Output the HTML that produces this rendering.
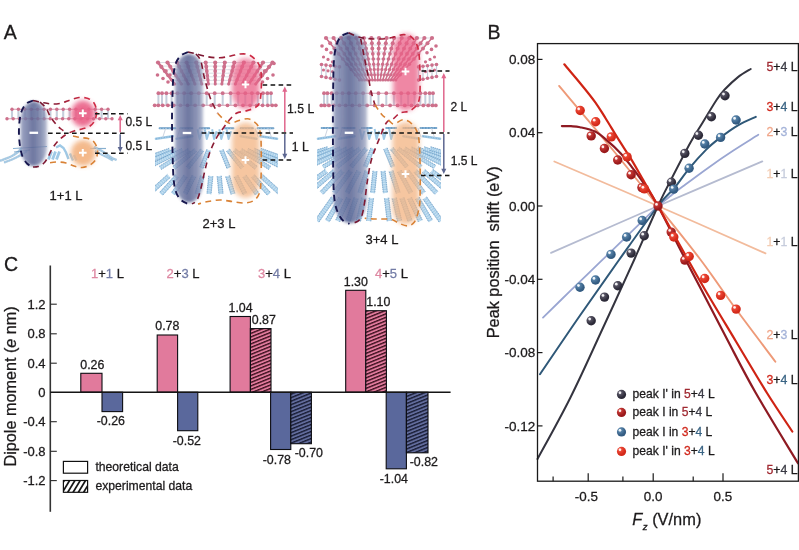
<!DOCTYPE html>
<html><head><meta charset="utf-8"><title>Figure</title>
<style>
html,body{margin:0;padding:0;background:#fff;}
body{width:799px;height:550px;overflow:hidden;}
svg{display:block;font-family:"Liberation Sans",Arial,sans-serif;}
text{stroke-width:0.28px;}
</style></head><body>
<svg width="799" height="550" viewBox="0 0 799 550">
<defs>
<filter id="b1" x="-30%" y="-10%" width="160%" height="120%"><feGaussianBlur stdDeviation="1.8"/></filter>
<filter id="b2" x="-30%" y="-30%" width="160%" height="160%"><feGaussianBlur stdDeviation="2.4"/></filter>
<filter id="b0" x="-5%" y="-5%" width="110%" height="110%"><feGaussianBlur stdDeviation="0.35"/></filter>
<linearGradient id="gE" x1="0" y1="0" x2="1" y2="0">
<stop offset="0" stop-color="#8d96ba" stop-opacity="0.9"/><stop offset="0.2" stop-color="#727ca6" stop-opacity="0.9"/>
<stop offset="0.48" stop-color="#586392" stop-opacity="0.94"/><stop offset="0.8" stop-color="#7680a8" stop-opacity="0.88"/>
<stop offset="1" stop-color="#8f98b8" stop-opacity="0.7"/></linearGradient>
<linearGradient id="r1" gradientUnits="userSpaceOnUse" x1="33" y1="0" x2="85" y2="0"><stop offset="0" stop-color="#6a1630"/><stop offset="0.45" stop-color="#8e1c34"/><stop offset="1" stop-color="#cf2a44"/></linearGradient>
<linearGradient id="r2" gradientUnits="userSpaceOnUse" x1="190" y1="0" x2="250" y2="0"><stop offset="0" stop-color="#6a1630"/><stop offset="0.45" stop-color="#8e1c34"/><stop offset="1" stop-color="#cf2a44"/></linearGradient>
<linearGradient id="r3" gradientUnits="userSpaceOnUse" x1="350" y1="0" x2="410" y2="0"><stop offset="0" stop-color="#6a1630"/><stop offset="0.45" stop-color="#8e1c34"/><stop offset="1" stop-color="#cf2a44"/></linearGradient>
<clipPath id="c2"><rect x="155" y="40" width="123" height="170"/></clipPath>
<clipPath id="c3"><rect x="317" y="30" width="124" height="200"/></clipPath>
<radialGradient id="sD" cx="0.36" cy="0.32" r="0.75" fx="0.32" fy="0.28"><stop offset="0" stop-color="#d8d6e0"/><stop offset="0.22" stop-color="#5b5868"/><stop offset="0.75" stop-color="#2c2a38"/><stop offset="1" stop-color="#2c2a38"/></radialGradient>
<radialGradient id="sR" cx="0.36" cy="0.32" r="0.75" fx="0.32" fy="0.28"><stop offset="0" stop-color="#f6c8c0"/><stop offset="0.22" stop-color="#c83a36"/><stop offset="0.75" stop-color="#9a1a1c"/><stop offset="1" stop-color="#9a1a1c"/></radialGradient>
<radialGradient id="sB" cx="0.36" cy="0.32" r="0.75" fx="0.32" fy="0.28"><stop offset="0" stop-color="#d6e6f2"/><stop offset="0.22" stop-color="#5a86ac"/><stop offset="0.75" stop-color="#345c82"/><stop offset="1" stop-color="#345c82"/></radialGradient>
<radialGradient id="sO" cx="0.36" cy="0.32" r="0.75" fx="0.32" fy="0.28"><stop offset="0" stop-color="#ffd8cc"/><stop offset="0.22" stop-color="#ee4a38"/><stop offset="0.75" stop-color="#d42a1a"/><stop offset="1" stop-color="#d42a1a"/></radialGradient>
<pattern id="hp" width="6" height="3.5" patternUnits="userSpaceOnUse" patternTransform="skewY(-22)">
<rect width="6" height="3.5" fill="#e17a9c"/><rect width="6" height="1.5" fill="#3c101e"/></pattern>
<pattern id="hb" width="6" height="3.5" patternUnits="userSpaceOnUse" patternTransform="skewY(-22)">
<rect width="6" height="3.5" fill="#626c9c"/><rect width="6" height="1.5" fill="#181c34"/></pattern>
<pattern id="hw" width="6" height="4.8" patternUnits="userSpaceOnUse" patternTransform="translate(0,1.5) skewY(-48)">
<rect width="6" height="4.8" fill="#fff"/><rect width="6" height="1.7" fill="#1a1a1a"/></pattern>
<clipPath id="clg"><rect x="63.4" y="480.5" width="24.2" height="11.8"/></clipPath>
</defs>
<rect width="799" height="550" fill="#fff"/>
<g id="panelA">
<text x="3.8" y="38.6" font-size="19.5" text-anchor="start" fill="#1c1a1b"  stroke="#1c1a1b">A</text>
<g filter="url(#b0)">
<line x1="12.0" y1="109.2" x2="12.0" y2="118.8" stroke="#c6cedb" stroke-width="2.1"/>
<line x1="18.4" y1="109.2" x2="18.4" y2="118.8" stroke="#c6cedb" stroke-width="2.1"/>
<line x1="24.8" y1="109.2" x2="24.8" y2="118.8" stroke="#c6cedb" stroke-width="2.1"/>
<line x1="31.2" y1="109.2" x2="31.2" y2="118.8" stroke="#c6cedb" stroke-width="2.1"/>
<line x1="37.6" y1="109.2" x2="37.6" y2="118.8" stroke="#c6cedb" stroke-width="2.1"/>
<line x1="44.0" y1="109.2" x2="44.0" y2="118.8" stroke="#c6cedb" stroke-width="2.1"/>
<line x1="50.4" y1="109.2" x2="50.4" y2="118.8" stroke="#c6cedb" stroke-width="2.1"/>
<line x1="56.8" y1="109.2" x2="56.8" y2="118.8" stroke="#c6cedb" stroke-width="2.1"/>
<line x1="63.2" y1="109.2" x2="63.2" y2="118.8" stroke="#c6cedb" stroke-width="2.1"/>
<line x1="69.6" y1="109.2" x2="69.6" y2="118.8" stroke="#c6cedb" stroke-width="2.1"/>
<line x1="76.0" y1="109.2" x2="76.0" y2="118.8" stroke="#c6cedb" stroke-width="2.1"/>
<line x1="82.4" y1="109.2" x2="82.4" y2="118.8" stroke="#c6cedb" stroke-width="2.1"/>
<line x1="88.8" y1="109.2" x2="88.8" y2="118.8" stroke="#c6cedb" stroke-width="2.1"/>
<line x1="95.2" y1="109.2" x2="95.2" y2="118.8" stroke="#c6cedb" stroke-width="2.1"/>
<line x1="101.6" y1="109.2" x2="101.6" y2="118.8" stroke="#c6cedb" stroke-width="2.1"/>
<line x1="108.0" y1="109.2" x2="108.0" y2="118.8" stroke="#c6cedb" stroke-width="2.1"/>
<line x1="12.0" y1="109.2" x2="108.0" y2="109.2" stroke="#d79cb0" stroke-width="1.1"/>
<line x1="7.0" y1="118.8" x2="112.0" y2="118.8" stroke="#d79cb0" stroke-width="1.1"/>
<circle cx="12.0" cy="109.2" r="1.7" fill="#cd6f8b"/>
<circle cx="18.4" cy="109.2" r="1.7" fill="#cd6f8b"/>
<circle cx="24.8" cy="109.2" r="1.7" fill="#cd6f8b"/>
<circle cx="31.2" cy="109.2" r="1.7" fill="#cd6f8b"/>
<circle cx="37.6" cy="109.2" r="1.7" fill="#cd6f8b"/>
<circle cx="44.0" cy="109.2" r="1.7" fill="#cd6f8b"/>
<circle cx="50.4" cy="109.2" r="1.7" fill="#cd6f8b"/>
<circle cx="56.8" cy="109.2" r="1.7" fill="#cd6f8b"/>
<circle cx="63.2" cy="109.2" r="1.7" fill="#cd6f8b"/>
<circle cx="69.6" cy="109.2" r="1.7" fill="#cd6f8b"/>
<circle cx="76.0" cy="109.2" r="1.7" fill="#cd6f8b"/>
<circle cx="82.4" cy="109.2" r="1.7" fill="#cd6f8b"/>
<circle cx="88.8" cy="109.2" r="1.7" fill="#cd6f8b"/>
<circle cx="95.2" cy="109.2" r="1.7" fill="#cd6f8b"/>
<circle cx="101.6" cy="109.2" r="1.7" fill="#cd6f8b"/>
<circle cx="108.0" cy="109.2" r="1.7" fill="#cd6f8b"/>
<circle cx="7.0" cy="118.8" r="1.7" fill="#cd6f8b"/>
<circle cx="13.2" cy="118.8" r="1.7" fill="#cd6f8b"/>
<circle cx="19.4" cy="118.8" r="1.7" fill="#cd6f8b"/>
<circle cx="25.5" cy="118.8" r="1.7" fill="#cd6f8b"/>
<circle cx="31.7" cy="118.8" r="1.7" fill="#cd6f8b"/>
<circle cx="37.9" cy="118.8" r="1.7" fill="#cd6f8b"/>
<circle cx="44.1" cy="118.8" r="1.7" fill="#cd6f8b"/>
<circle cx="50.2" cy="118.8" r="1.7" fill="#cd6f8b"/>
<circle cx="56.4" cy="118.8" r="1.7" fill="#cd6f8b"/>
<circle cx="62.6" cy="118.8" r="1.7" fill="#cd6f8b"/>
<circle cx="68.8" cy="118.8" r="1.7" fill="#cd6f8b"/>
<circle cx="74.9" cy="118.8" r="1.7" fill="#cd6f8b"/>
<circle cx="81.1" cy="118.8" r="1.7" fill="#cd6f8b"/>
<circle cx="87.3" cy="118.8" r="1.7" fill="#cd6f8b"/>
<circle cx="93.5" cy="118.8" r="1.7" fill="#cd6f8b"/>
<circle cx="99.6" cy="118.8" r="1.7" fill="#cd6f8b"/>
<circle cx="105.8" cy="118.8" r="1.7" fill="#cd6f8b"/>
<circle cx="112.0" cy="118.8" r="1.7" fill="#cd6f8b"/>
<path d="M0.0,160.8 C1.0,160.4 4.0,159.4 6.0,158.6 C8.0,157.8 10.0,157.1 12.0,156.0 C14.0,154.9 16.3,153.3 18.0,152.0 C19.7,150.7 21.3,148.7 22.0,148.0" fill="none" stroke="#6a9bc4" stroke-width="2.4" opacity="0.5"/>
<path d="M0.0,160.8 C1.0,160.4 4.0,159.4 6.0,158.6 C8.0,157.8 10.0,157.1 12.0,156.0 C14.0,154.9 16.3,153.3 18.0,152.0 C19.7,150.7 21.3,148.7 22.0,148.0" fill="none" stroke="#9fc9e6" stroke-width="1.5999999999999999" stroke-dasharray="1.6 0.9"/>
<path d="M4.0,162.5 C5.3,162.0 9.3,160.7 12.0,159.5 C14.7,158.3 17.5,156.9 20.0,155.5 C22.5,154.1 25.8,151.8 27.0,151.0" fill="none" stroke="#6a9bc4" stroke-width="2.2" opacity="0.5"/>
<path d="M4.0,162.5 C5.3,162.0 9.3,160.7 12.0,159.5 C14.7,158.3 17.5,156.9 20.0,155.5 C22.5,154.1 25.8,151.8 27.0,151.0" fill="none" stroke="#9fc9e6" stroke-width="1.4000000000000001" stroke-dasharray="1.6 0.9"/>
<path d="M13,148.5 L47,146.5 M14,152 L30,150" stroke="#6a9bc4" stroke-width="1.2" opacity="0.8"/>
<line x1="51.5" y1="151.5" x2="48.5" y2="159.5" stroke="#9fc9e6" stroke-width="2.8"/>
<line x1="55.5" y1="151.5" x2="52.5" y2="159.5" stroke="#9fc9e6" stroke-width="2.8"/>
<line x1="59.5" y1="151.5" x2="56.5" y2="159.5" stroke="#9fc9e6" stroke-width="2.8"/>
<path d="M56,147.5 L60,145.5 L63.5,148 L66,152.5 L68.5,159 M70,153.5 l3,7 M74,155 l2.5,5.5" stroke="#9fc9e6" stroke-width="2.4" fill="none"/>
<path d="M90,148.5 H106" stroke="#6a9bc4" stroke-width="1.2" opacity="0.8"/>
<path d="M94.0,147.0 C95.2,147.6 98.8,149.2 101.0,150.5 C103.2,151.8 105.2,153.2 107.0,154.5 C108.8,155.8 110.4,157.1 112.0,158.0 C113.6,158.9 115.8,159.7 116.5,160.0" fill="none" stroke="#6a9bc4" stroke-width="2.4" opacity="0.5"/>
<path d="M94.0,147.0 C95.2,147.6 98.8,149.2 101.0,150.5 C103.2,151.8 105.2,153.2 107.0,154.5 C108.8,155.8 110.4,157.1 112.0,158.0 C113.6,158.9 115.8,159.7 116.5,160.0" fill="none" stroke="#9fc9e6" stroke-width="1.5999999999999999" stroke-dasharray="1.6 0.9"/>
<path d="M95.0,151.0 C96.2,151.6 99.8,153.7 102.0,154.8 C104.2,155.9 106.2,156.9 108.0,157.8 C109.8,158.8 112.2,160.1 113.0,160.5" fill="none" stroke="#6a9bc4" stroke-width="2.2" opacity="0.5"/>
<path d="M95.0,151.0 C96.2,151.6 99.8,153.7 102.0,154.8 C104.2,155.9 106.2,156.9 108.0,157.8 C109.8,158.8 112.2,160.1 113.0,160.5" fill="none" stroke="#9fc9e6" stroke-width="1.4000000000000001" stroke-dasharray="1.6 0.9"/>
<g>
<line x1="158.0" y1="62.5" x2="272.5" y2="62.5" stroke="#c3c8d4" stroke-width="0.6"/>
<line x1="160.8" y1="66.1" x2="269.7" y2="66.1" stroke="#c3c8d4" stroke-width="0.6"/>
<line x1="163.6" y1="69.7" x2="266.9" y2="69.7" stroke="#c3c8d4" stroke-width="0.6"/>
<line x1="166.3" y1="73.2" x2="264.1" y2="73.2" stroke="#c3c8d4" stroke-width="0.6"/>
<line x1="169.1" y1="76.8" x2="261.3" y2="76.8" stroke="#c3c8d4" stroke-width="0.6"/>
<line x1="171.9" y1="80.4" x2="258.5" y2="80.4" stroke="#c3c8d4" stroke-width="0.6"/>
<line x1="174.7" y1="84.0" x2="255.7" y2="84.0" stroke="#c3c8d4" stroke-width="0.6"/>
<line x1="158.0" y1="62.5" x2="174.7" y2="84.0" stroke="#cd6f8b" stroke-width="2.5" stroke-linecap="round"/>
<circle cx="158.0" cy="62.5" r="2.10" fill="#cd6f8b"/>
<circle cx="161.3" cy="66.8" r="1.98" fill="#cd6f8b"/>
<circle cx="164.7" cy="71.1" r="1.86" fill="#cd6f8b"/>
<circle cx="168.0" cy="75.4" r="1.74" fill="#cd6f8b"/>
<circle cx="171.3" cy="79.7" r="1.62" fill="#cd6f8b"/>
<circle cx="174.7" cy="84.0" r="1.50" fill="#cd6f8b"/>
<line x1="167.5" y1="62.5" x2="181.4" y2="84.0" stroke="#cd6f8b" stroke-width="2.5" stroke-linecap="round"/>
<circle cx="167.5" cy="62.5" r="2.10" fill="#cd6f8b"/>
<circle cx="170.3" cy="66.8" r="1.98" fill="#cd6f8b"/>
<circle cx="173.1" cy="71.1" r="1.86" fill="#cd6f8b"/>
<circle cx="175.9" cy="75.4" r="1.74" fill="#cd6f8b"/>
<circle cx="178.6" cy="79.7" r="1.62" fill="#cd6f8b"/>
<circle cx="181.4" cy="84.0" r="1.50" fill="#cd6f8b"/>
<line x1="177.1" y1="62.5" x2="188.2" y2="84.0" stroke="#cd6f8b" stroke-width="2.5" stroke-linecap="round"/>
<circle cx="177.1" cy="62.5" r="2.10" fill="#cd6f8b"/>
<circle cx="179.3" cy="66.8" r="1.98" fill="#cd6f8b"/>
<circle cx="181.5" cy="71.1" r="1.86" fill="#cd6f8b"/>
<circle cx="183.7" cy="75.4" r="1.74" fill="#cd6f8b"/>
<circle cx="186.0" cy="79.7" r="1.62" fill="#cd6f8b"/>
<circle cx="188.2" cy="84.0" r="1.50" fill="#cd6f8b"/>
<line x1="186.6" y1="62.5" x2="194.9" y2="84.0" stroke="#cd6f8b" stroke-width="2.5" stroke-linecap="round"/>
<circle cx="186.6" cy="62.5" r="2.10" fill="#cd6f8b"/>
<circle cx="188.3" cy="66.8" r="1.98" fill="#cd6f8b"/>
<circle cx="189.9" cy="71.1" r="1.86" fill="#cd6f8b"/>
<circle cx="191.6" cy="75.4" r="1.74" fill="#cd6f8b"/>
<circle cx="193.3" cy="79.7" r="1.62" fill="#cd6f8b"/>
<circle cx="194.9" cy="84.0" r="1.50" fill="#cd6f8b"/>
<line x1="196.2" y1="62.5" x2="201.7" y2="84.0" stroke="#cd6f8b" stroke-width="2.5" stroke-linecap="round"/>
<circle cx="196.2" cy="62.5" r="2.10" fill="#cd6f8b"/>
<circle cx="197.3" cy="66.8" r="1.98" fill="#cd6f8b"/>
<circle cx="198.4" cy="71.1" r="1.86" fill="#cd6f8b"/>
<circle cx="199.5" cy="75.4" r="1.74" fill="#cd6f8b"/>
<circle cx="200.6" cy="79.7" r="1.62" fill="#cd6f8b"/>
<circle cx="201.7" cy="84.0" r="1.50" fill="#cd6f8b"/>
<line x1="205.7" y1="62.5" x2="208.4" y2="84.0" stroke="#cd6f8b" stroke-width="2.5" stroke-linecap="round"/>
<circle cx="205.7" cy="62.5" r="2.10" fill="#cd6f8b"/>
<circle cx="206.3" cy="66.8" r="1.98" fill="#cd6f8b"/>
<circle cx="206.8" cy="71.1" r="1.86" fill="#cd6f8b"/>
<circle cx="207.3" cy="75.4" r="1.74" fill="#cd6f8b"/>
<circle cx="207.9" cy="79.7" r="1.62" fill="#cd6f8b"/>
<circle cx="208.4" cy="84.0" r="1.50" fill="#cd6f8b"/>
<line x1="215.2" y1="62.5" x2="215.2" y2="84.0" stroke="#cd6f8b" stroke-width="2.5" stroke-linecap="round"/>
<circle cx="215.2" cy="62.5" r="2.10" fill="#cd6f8b"/>
<circle cx="215.2" cy="66.8" r="1.98" fill="#cd6f8b"/>
<circle cx="215.2" cy="71.1" r="1.86" fill="#cd6f8b"/>
<circle cx="215.2" cy="75.4" r="1.74" fill="#cd6f8b"/>
<circle cx="215.2" cy="79.7" r="1.62" fill="#cd6f8b"/>
<circle cx="215.2" cy="84.0" r="1.50" fill="#cd6f8b"/>
<line x1="224.8" y1="62.5" x2="221.9" y2="84.0" stroke="#cd6f8b" stroke-width="2.5" stroke-linecap="round"/>
<circle cx="224.8" cy="62.5" r="2.10" fill="#cd6f8b"/>
<circle cx="224.2" cy="66.8" r="1.98" fill="#cd6f8b"/>
<circle cx="223.6" cy="71.1" r="1.86" fill="#cd6f8b"/>
<circle cx="223.1" cy="75.4" r="1.74" fill="#cd6f8b"/>
<circle cx="222.5" cy="79.7" r="1.62" fill="#cd6f8b"/>
<circle cx="221.9" cy="84.0" r="1.50" fill="#cd6f8b"/>
<line x1="234.3" y1="62.5" x2="228.7" y2="84.0" stroke="#cd6f8b" stroke-width="2.5" stroke-linecap="round"/>
<circle cx="234.3" cy="62.5" r="2.10" fill="#cd6f8b"/>
<circle cx="233.2" cy="66.8" r="1.98" fill="#cd6f8b"/>
<circle cx="232.1" cy="71.1" r="1.86" fill="#cd6f8b"/>
<circle cx="230.9" cy="75.4" r="1.74" fill="#cd6f8b"/>
<circle cx="229.8" cy="79.7" r="1.62" fill="#cd6f8b"/>
<circle cx="228.7" cy="84.0" r="1.50" fill="#cd6f8b"/>
<line x1="243.9" y1="62.5" x2="235.4" y2="84.0" stroke="#cd6f8b" stroke-width="2.5" stroke-linecap="round"/>
<circle cx="243.9" cy="62.5" r="2.10" fill="#cd6f8b"/>
<circle cx="242.2" cy="66.8" r="1.98" fill="#cd6f8b"/>
<circle cx="240.5" cy="71.1" r="1.86" fill="#cd6f8b"/>
<circle cx="238.8" cy="75.4" r="1.74" fill="#cd6f8b"/>
<circle cx="237.1" cy="79.7" r="1.62" fill="#cd6f8b"/>
<circle cx="235.4" cy="84.0" r="1.50" fill="#cd6f8b"/>
<line x1="253.4" y1="62.5" x2="242.2" y2="84.0" stroke="#cd6f8b" stroke-width="2.5" stroke-linecap="round"/>
<circle cx="253.4" cy="62.5" r="2.10" fill="#cd6f8b"/>
<circle cx="251.2" cy="66.8" r="1.98" fill="#cd6f8b"/>
<circle cx="248.9" cy="71.1" r="1.86" fill="#cd6f8b"/>
<circle cx="246.7" cy="75.4" r="1.74" fill="#cd6f8b"/>
<circle cx="244.4" cy="79.7" r="1.62" fill="#cd6f8b"/>
<circle cx="242.2" cy="84.0" r="1.50" fill="#cd6f8b"/>
<line x1="263.0" y1="62.5" x2="248.9" y2="84.0" stroke="#cd6f8b" stroke-width="2.5" stroke-linecap="round"/>
<circle cx="263.0" cy="62.5" r="2.10" fill="#cd6f8b"/>
<circle cx="260.2" cy="66.8" r="1.98" fill="#cd6f8b"/>
<circle cx="257.3" cy="71.1" r="1.86" fill="#cd6f8b"/>
<circle cx="254.5" cy="75.4" r="1.74" fill="#cd6f8b"/>
<circle cx="251.7" cy="79.7" r="1.62" fill="#cd6f8b"/>
<circle cx="248.9" cy="84.0" r="1.50" fill="#cd6f8b"/>
<line x1="272.5" y1="62.5" x2="255.7" y2="84.0" stroke="#cd6f8b" stroke-width="2.5" stroke-linecap="round"/>
<circle cx="272.5" cy="62.5" r="2.10" fill="#cd6f8b"/>
<circle cx="269.1" cy="66.8" r="1.98" fill="#cd6f8b"/>
<circle cx="265.8" cy="71.1" r="1.86" fill="#cd6f8b"/>
<circle cx="262.4" cy="75.4" r="1.74" fill="#cd6f8b"/>
<circle cx="259.0" cy="79.7" r="1.62" fill="#cd6f8b"/>
<circle cx="255.7" cy="84.0" r="1.50" fill="#cd6f8b"/>
</g>
<circle cx="157.5" cy="75" r="1.8" fill="#cd6f8b"/>
<circle cx="163" cy="78.5" r="1.8" fill="#cd6f8b"/>
<circle cx="168" cy="82" r="1.8" fill="#cd6f8b"/>
<circle cx="161.5" cy="67" r="1.8" fill="#cd6f8b"/>
<circle cx="166" cy="71" r="1.8" fill="#cd6f8b"/>
<circle cx="170" cy="75" r="1.8" fill="#cd6f8b"/>
<circle cx="273" cy="75" r="1.8" fill="#cd6f8b"/>
<circle cx="267.5" cy="78.5" r="1.8" fill="#cd6f8b"/>
<circle cx="262.5" cy="82" r="1.8" fill="#cd6f8b"/>
<circle cx="269" cy="67" r="1.8" fill="#cd6f8b"/>
<circle cx="264.5" cy="71" r="1.8" fill="#cd6f8b"/>
<circle cx="260.5" cy="75" r="1.8" fill="#cd6f8b"/>
<circle cx="274" cy="63.5" r="1.8" fill="#cd6f8b"/>
<line x1="158.4" y1="93.2" x2="158.4" y2="105.3" stroke="#c6cedb" stroke-width="2.0"/>
<line x1="162.0" y1="93.2" x2="162.0" y2="105.3" stroke="#c6cedb" stroke-width="2.0"/>
<line x1="166.4" y1="93.2" x2="166.4" y2="105.3" stroke="#c6cedb" stroke-width="2.0"/>
<line x1="171.6" y1="93.2" x2="171.6" y2="105.3" stroke="#c6cedb" stroke-width="2.0"/>
<line x1="177.5" y1="93.2" x2="177.5" y2="105.3" stroke="#c6cedb" stroke-width="2.0"/>
<line x1="184.1" y1="93.2" x2="184.1" y2="105.3" stroke="#c6cedb" stroke-width="2.0"/>
<line x1="191.2" y1="93.2" x2="191.2" y2="105.3" stroke="#c6cedb" stroke-width="2.0"/>
<line x1="198.8" y1="93.2" x2="198.8" y2="105.3" stroke="#c6cedb" stroke-width="2.0"/>
<line x1="206.7" y1="93.2" x2="206.7" y2="105.3" stroke="#c6cedb" stroke-width="2.0"/>
<line x1="214.7" y1="93.2" x2="214.7" y2="105.3" stroke="#c6cedb" stroke-width="2.0"/>
<line x1="222.7" y1="93.2" x2="222.7" y2="105.3" stroke="#c6cedb" stroke-width="2.0"/>
<line x1="230.6" y1="93.2" x2="230.6" y2="105.3" stroke="#c6cedb" stroke-width="2.0"/>
<line x1="238.2" y1="93.2" x2="238.2" y2="105.3" stroke="#c6cedb" stroke-width="2.0"/>
<line x1="245.3" y1="93.2" x2="245.3" y2="105.3" stroke="#c6cedb" stroke-width="2.0"/>
<line x1="251.9" y1="93.2" x2="251.9" y2="105.3" stroke="#c6cedb" stroke-width="2.0"/>
<line x1="257.8" y1="93.2" x2="257.8" y2="105.3" stroke="#c6cedb" stroke-width="2.0"/>
<line x1="263.0" y1="93.2" x2="263.0" y2="105.3" stroke="#c6cedb" stroke-width="2.0"/>
<line x1="267.4" y1="93.2" x2="267.4" y2="105.3" stroke="#c6cedb" stroke-width="2.0"/>
<line x1="271.0" y1="93.2" x2="271.0" y2="105.3" stroke="#c6cedb" stroke-width="2.0"/>
<line x1="158.4" y1="93.2" x2="271.0" y2="93.2" stroke="#d79cb0" stroke-width="1.1"/>
<line x1="154.7" y1="105.3" x2="275.8" y2="105.3" stroke="#d79cb0" stroke-width="1.1"/>
<circle cx="158.4" cy="93.2" r="1.9" fill="#cd6f8b"/>
<circle cx="162.0" cy="93.2" r="1.9" fill="#cd6f8b"/>
<circle cx="166.4" cy="93.2" r="1.9" fill="#cd6f8b"/>
<circle cx="171.6" cy="93.2" r="1.9" fill="#cd6f8b"/>
<circle cx="177.5" cy="93.2" r="1.9" fill="#cd6f8b"/>
<circle cx="184.1" cy="93.2" r="1.9" fill="#cd6f8b"/>
<circle cx="191.2" cy="93.2" r="1.9" fill="#cd6f8b"/>
<circle cx="198.8" cy="93.2" r="1.9" fill="#cd6f8b"/>
<circle cx="206.7" cy="93.2" r="1.9" fill="#cd6f8b"/>
<circle cx="214.7" cy="93.2" r="1.9" fill="#cd6f8b"/>
<circle cx="222.7" cy="93.2" r="1.9" fill="#cd6f8b"/>
<circle cx="230.6" cy="93.2" r="1.9" fill="#cd6f8b"/>
<circle cx="238.2" cy="93.2" r="1.9" fill="#cd6f8b"/>
<circle cx="245.3" cy="93.2" r="1.9" fill="#cd6f8b"/>
<circle cx="251.9" cy="93.2" r="1.9" fill="#cd6f8b"/>
<circle cx="257.8" cy="93.2" r="1.9" fill="#cd6f8b"/>
<circle cx="263.0" cy="93.2" r="1.9" fill="#cd6f8b"/>
<circle cx="267.4" cy="93.2" r="1.9" fill="#cd6f8b"/>
<circle cx="271.0" cy="93.2" r="1.9" fill="#cd6f8b"/>
<circle cx="154.7" cy="105.3" r="1.9" fill="#cd6f8b"/>
<circle cx="158.3" cy="105.3" r="1.9" fill="#cd6f8b"/>
<circle cx="162.7" cy="105.3" r="1.9" fill="#cd6f8b"/>
<circle cx="167.9" cy="105.3" r="1.9" fill="#cd6f8b"/>
<circle cx="173.8" cy="105.3" r="1.9" fill="#cd6f8b"/>
<circle cx="180.4" cy="105.3" r="1.9" fill="#cd6f8b"/>
<circle cx="187.5" cy="105.3" r="1.9" fill="#cd6f8b"/>
<circle cx="195.1" cy="105.3" r="1.9" fill="#cd6f8b"/>
<circle cx="203.0" cy="105.3" r="1.9" fill="#cd6f8b"/>
<circle cx="211.2" cy="105.3" r="1.9" fill="#cd6f8b"/>
<circle cx="219.3" cy="105.3" r="1.9" fill="#cd6f8b"/>
<circle cx="227.5" cy="105.3" r="1.9" fill="#cd6f8b"/>
<circle cx="235.4" cy="105.3" r="1.9" fill="#cd6f8b"/>
<circle cx="243.0" cy="105.3" r="1.9" fill="#cd6f8b"/>
<circle cx="250.1" cy="105.3" r="1.9" fill="#cd6f8b"/>
<circle cx="256.7" cy="105.3" r="1.9" fill="#cd6f8b"/>
<circle cx="262.6" cy="105.3" r="1.9" fill="#cd6f8b"/>
<circle cx="267.8" cy="105.3" r="1.9" fill="#cd6f8b"/>
<circle cx="272.2" cy="105.3" r="1.9" fill="#cd6f8b"/>
<circle cx="275.8" cy="105.3" r="1.9" fill="#cd6f8b"/>
<line x1="159.6" y1="128.3" x2="175.4" y2="128.3" stroke="#6a9bc4" stroke-width="2" stroke-linecap="round"/>
<line x1="159.6" y1="128.3" x2="175.4" y2="128.3" stroke="#9fc9e6" stroke-width="1" stroke-dasharray="1.5 1.5"/>
<line x1="180.2" y1="128.3" x2="192.3" y2="128.3" stroke="#6a9bc4" stroke-width="2" stroke-linecap="round"/>
<line x1="180.2" y1="128.3" x2="192.3" y2="128.3" stroke="#9fc9e6" stroke-width="1" stroke-dasharray="1.5 1.5"/>
<line x1="199.6" y1="128.3" x2="209.2" y2="128.3" stroke="#6a9bc4" stroke-width="2" stroke-linecap="round"/>
<line x1="199.6" y1="128.3" x2="209.2" y2="128.3" stroke="#9fc9e6" stroke-width="1" stroke-dasharray="1.5 1.5"/>
<line x1="223.8" y1="128.3" x2="233.4" y2="128.3" stroke="#6a9bc4" stroke-width="2" stroke-linecap="round"/>
<line x1="223.8" y1="128.3" x2="233.4" y2="128.3" stroke="#9fc9e6" stroke-width="1" stroke-dasharray="1.5 1.5"/>
<line x1="240.7" y1="128.3" x2="252.8" y2="128.3" stroke="#6a9bc4" stroke-width="2" stroke-linecap="round"/>
<line x1="240.7" y1="128.3" x2="252.8" y2="128.3" stroke="#9fc9e6" stroke-width="1" stroke-dasharray="1.5 1.5"/>
<line x1="257.6" y1="128.3" x2="273.4" y2="128.3" stroke="#6a9bc4" stroke-width="2" stroke-linecap="round"/>
<line x1="257.6" y1="128.3" x2="273.4" y2="128.3" stroke="#9fc9e6" stroke-width="1" stroke-dasharray="1.5 1.5"/>
<line x1="156.0" y1="138.8" x2="172.9" y2="136.2" stroke="#9fc9e6" stroke-width="2.6" stroke-linecap="round"/>
<line x1="156.0" y1="138.8" x2="172.9" y2="136.2" stroke="#6a9bc4" stroke-width="0.8" stroke-dasharray="1.2 1.4" opacity="0.7"/>
<line x1="176.6" y1="138.8" x2="192.3" y2="136.2" stroke="#9fc9e6" stroke-width="2.6" stroke-linecap="round"/>
<line x1="176.6" y1="138.8" x2="192.3" y2="136.2" stroke="#6a9bc4" stroke-width="0.8" stroke-dasharray="1.2 1.4" opacity="0.7"/>
<line x1="240.7" y1="136.2" x2="256.4" y2="138.8" stroke="#9fc9e6" stroke-width="2.6" stroke-linecap="round"/>
<line x1="240.7" y1="136.2" x2="256.4" y2="138.8" stroke="#6a9bc4" stroke-width="0.8" stroke-dasharray="1.2 1.4" opacity="0.7"/>
<line x1="260.1" y1="136.2" x2="277.0" y2="138.8" stroke="#9fc9e6" stroke-width="2.6" stroke-linecap="round"/>
<line x1="260.1" y1="136.2" x2="277.0" y2="138.8" stroke="#6a9bc4" stroke-width="0.8" stroke-dasharray="1.2 1.4" opacity="0.7"/>
<path d="M197.6,129.3 L199.6,139.0 L202.1,131.3" stroke="#9fc9e6" stroke-width="2" fill="none" stroke-linejoin="round"/>
<path d="M204.8,129.3 L206.8,139.0 L209.3,131.3" stroke="#9fc9e6" stroke-width="2" fill="none" stroke-linejoin="round"/>
<path d="M212.1,129.3 L214.1,139.0 L216.6,131.3" stroke="#9fc9e6" stroke-width="2" fill="none" stroke-linejoin="round"/>
<path d="M219.3,129.3 L221.3,139.0 L223.8,131.3" stroke="#9fc9e6" stroke-width="2" fill="none" stroke-linejoin="round"/>
<path d="M226.6,129.3 L228.6,139.0 L231.1,131.3" stroke="#9fc9e6" stroke-width="2" fill="none" stroke-linejoin="round"/>
<line x1="165.7" y1="128.3" x2="162.7" y2="137.5" stroke="#c6cedb" stroke-width="0.9"/>
<line x1="180.2" y1="128.3" x2="177.2" y2="137.5" stroke="#c6cedb" stroke-width="0.9"/>
<line x1="255.2" y1="128.3" x2="258.2" y2="137.5" stroke="#c6cedb" stroke-width="0.9"/>
<line x1="268.5" y1="128.3" x2="271.5" y2="137.5" stroke="#c6cedb" stroke-width="0.9"/>
<g clip-path="url(#c2)">
<line x1="169.8" y1="150.0" x2="119.0" y2="168.0" stroke="#9fc9e6" stroke-width="3.8" opacity="0.9"/>
<line x1="169.8" y1="150.0" x2="119.0" y2="168.0" stroke="#cfe6f6" stroke-width="2.2" stroke-dasharray="1.0 1.4" opacity="0.9"/>
<line x1="169.2" y1="148.2" x2="118.4" y2="166.2" stroke="#6a9bc4" stroke-width="0.9" stroke-dasharray="1.5 0.7" opacity="0.85"/>
<line x1="170.5" y1="151.8" x2="119.6" y2="169.8" stroke="#6a9bc4" stroke-width="0.9" stroke-dasharray="1.5 0.7" opacity="0.85"/>
<line x1="176.3" y1="150.0" x2="132.7" y2="168.0" stroke="#9fc9e6" stroke-width="3.8" opacity="0.9"/>
<line x1="176.3" y1="150.0" x2="132.7" y2="168.0" stroke="#cfe6f6" stroke-width="2.2" stroke-dasharray="1.0 1.4" opacity="0.9"/>
<line x1="175.6" y1="148.2" x2="132.0" y2="166.2" stroke="#6a9bc4" stroke-width="0.9" stroke-dasharray="1.5 0.7" opacity="0.85"/>
<line x1="177.0" y1="151.8" x2="133.4" y2="169.8" stroke="#6a9bc4" stroke-width="0.9" stroke-dasharray="1.5 0.7" opacity="0.85"/>
<line x1="182.7" y1="150.0" x2="146.4" y2="168.0" stroke="#9fc9e6" stroke-width="3.8" opacity="0.9"/>
<line x1="182.7" y1="150.0" x2="146.4" y2="168.0" stroke="#cfe6f6" stroke-width="2.2" stroke-dasharray="1.0 1.4" opacity="0.9"/>
<line x1="181.9" y1="148.3" x2="145.6" y2="166.3" stroke="#6a9bc4" stroke-width="0.9" stroke-dasharray="1.5 0.7" opacity="0.85"/>
<line x1="183.6" y1="151.7" x2="147.3" y2="169.7" stroke="#6a9bc4" stroke-width="0.9" stroke-dasharray="1.5 0.7" opacity="0.85"/>
<line x1="189.2" y1="150.0" x2="160.1" y2="168.0" stroke="#9fc9e6" stroke-width="3.8" opacity="0.9"/>
<line x1="189.2" y1="150.0" x2="160.1" y2="168.0" stroke="#cfe6f6" stroke-width="2.2" stroke-dasharray="1.0 1.4" opacity="0.9"/>
<line x1="188.2" y1="148.4" x2="159.1" y2="166.4" stroke="#6a9bc4" stroke-width="0.9" stroke-dasharray="1.5 0.7" opacity="0.85"/>
<line x1="190.2" y1="151.6" x2="161.1" y2="169.6" stroke="#6a9bc4" stroke-width="0.9" stroke-dasharray="1.5 0.7" opacity="0.85"/>
<line x1="195.6" y1="150.0" x2="173.9" y2="168.0" stroke="#9fc9e6" stroke-width="3.8" opacity="0.9"/>
<line x1="195.6" y1="150.0" x2="173.9" y2="168.0" stroke="#cfe6f6" stroke-width="2.2" stroke-dasharray="1.0 1.4" opacity="0.9"/>
<line x1="194.4" y1="148.5" x2="172.6" y2="166.5" stroke="#6a9bc4" stroke-width="0.9" stroke-dasharray="1.5 0.7" opacity="0.85"/>
<line x1="196.8" y1="151.5" x2="175.1" y2="169.5" stroke="#6a9bc4" stroke-width="0.9" stroke-dasharray="1.5 0.7" opacity="0.85"/>
<line x1="202.1" y1="150.0" x2="187.6" y2="168.0" stroke="#9fc9e6" stroke-width="3.8" opacity="0.9"/>
<line x1="202.1" y1="150.0" x2="187.6" y2="168.0" stroke="#cfe6f6" stroke-width="2.2" stroke-dasharray="1.0 1.4" opacity="0.9"/>
<line x1="200.6" y1="148.8" x2="186.1" y2="166.8" stroke="#6a9bc4" stroke-width="0.9" stroke-dasharray="1.5 0.7" opacity="0.85"/>
<line x1="203.6" y1="151.2" x2="189.1" y2="169.2" stroke="#6a9bc4" stroke-width="0.9" stroke-dasharray="1.5 0.7" opacity="0.85"/>
<line x1="208.5" y1="150.0" x2="201.3" y2="168.0" stroke="#9fc9e6" stroke-width="3.8" opacity="0.9"/>
<line x1="208.5" y1="150.0" x2="201.3" y2="168.0" stroke="#cfe6f6" stroke-width="2.2" stroke-dasharray="1.0 1.4" opacity="0.9"/>
<line x1="206.8" y1="149.3" x2="199.5" y2="167.3" stroke="#6a9bc4" stroke-width="0.9" stroke-dasharray="1.5 0.7" opacity="0.85"/>
<line x1="210.3" y1="150.7" x2="203.0" y2="168.7" stroke="#6a9bc4" stroke-width="0.9" stroke-dasharray="1.5 0.7" opacity="0.85"/>
<line x1="221.5" y1="150.0" x2="228.7" y2="168.0" stroke="#9fc9e6" stroke-width="3.8" opacity="0.9"/>
<line x1="221.5" y1="150.0" x2="228.7" y2="168.0" stroke="#cfe6f6" stroke-width="2.2" stroke-dasharray="1.0 1.4" opacity="0.9"/>
<line x1="219.7" y1="150.7" x2="227.0" y2="168.7" stroke="#6a9bc4" stroke-width="0.9" stroke-dasharray="1.5 0.7" opacity="0.85"/>
<line x1="223.2" y1="149.3" x2="230.5" y2="167.3" stroke="#6a9bc4" stroke-width="0.9" stroke-dasharray="1.5 0.7" opacity="0.85"/>
<line x1="227.9" y1="150.0" x2="242.4" y2="168.0" stroke="#9fc9e6" stroke-width="3.8" opacity="0.9"/>
<line x1="227.9" y1="150.0" x2="242.4" y2="168.0" stroke="#cfe6f6" stroke-width="2.2" stroke-dasharray="1.0 1.4" opacity="0.9"/>
<line x1="226.4" y1="151.2" x2="240.9" y2="169.2" stroke="#6a9bc4" stroke-width="0.9" stroke-dasharray="1.5 0.7" opacity="0.85"/>
<line x1="229.4" y1="148.8" x2="243.9" y2="166.8" stroke="#6a9bc4" stroke-width="0.9" stroke-dasharray="1.5 0.7" opacity="0.85"/>
<line x1="234.4" y1="150.0" x2="256.1" y2="168.0" stroke="#9fc9e6" stroke-width="3.8" opacity="0.9"/>
<line x1="234.4" y1="150.0" x2="256.1" y2="168.0" stroke="#cfe6f6" stroke-width="2.2" stroke-dasharray="1.0 1.4" opacity="0.9"/>
<line x1="233.2" y1="151.5" x2="254.9" y2="169.5" stroke="#6a9bc4" stroke-width="0.9" stroke-dasharray="1.5 0.7" opacity="0.85"/>
<line x1="235.6" y1="148.5" x2="257.4" y2="166.5" stroke="#6a9bc4" stroke-width="0.9" stroke-dasharray="1.5 0.7" opacity="0.85"/>
<line x1="240.8" y1="150.0" x2="269.9" y2="168.0" stroke="#9fc9e6" stroke-width="3.8" opacity="0.9"/>
<line x1="240.8" y1="150.0" x2="269.9" y2="168.0" stroke="#cfe6f6" stroke-width="2.2" stroke-dasharray="1.0 1.4" opacity="0.9"/>
<line x1="239.8" y1="151.6" x2="268.9" y2="169.6" stroke="#6a9bc4" stroke-width="0.9" stroke-dasharray="1.5 0.7" opacity="0.85"/>
<line x1="241.8" y1="148.4" x2="270.9" y2="166.4" stroke="#6a9bc4" stroke-width="0.9" stroke-dasharray="1.5 0.7" opacity="0.85"/>
<line x1="247.3" y1="150.0" x2="283.6" y2="168.0" stroke="#9fc9e6" stroke-width="3.8" opacity="0.9"/>
<line x1="247.3" y1="150.0" x2="283.6" y2="168.0" stroke="#cfe6f6" stroke-width="2.2" stroke-dasharray="1.0 1.4" opacity="0.9"/>
<line x1="246.4" y1="151.7" x2="282.7" y2="169.7" stroke="#6a9bc4" stroke-width="0.9" stroke-dasharray="1.5 0.7" opacity="0.85"/>
<line x1="248.1" y1="148.3" x2="284.4" y2="166.3" stroke="#6a9bc4" stroke-width="0.9" stroke-dasharray="1.5 0.7" opacity="0.85"/>
<line x1="253.7" y1="150.0" x2="297.3" y2="168.0" stroke="#9fc9e6" stroke-width="3.8" opacity="0.9"/>
<line x1="253.7" y1="150.0" x2="297.3" y2="168.0" stroke="#cfe6f6" stroke-width="2.2" stroke-dasharray="1.0 1.4" opacity="0.9"/>
<line x1="253.0" y1="151.8" x2="296.6" y2="169.8" stroke="#6a9bc4" stroke-width="0.9" stroke-dasharray="1.5 0.7" opacity="0.85"/>
<line x1="254.4" y1="148.2" x2="298.0" y2="166.2" stroke="#6a9bc4" stroke-width="0.9" stroke-dasharray="1.5 0.7" opacity="0.85"/>
<line x1="260.2" y1="150.0" x2="311.0" y2="168.0" stroke="#9fc9e6" stroke-width="3.8" opacity="0.9"/>
<line x1="260.2" y1="150.0" x2="311.0" y2="168.0" stroke="#cfe6f6" stroke-width="2.2" stroke-dasharray="1.0 1.4" opacity="0.9"/>
<line x1="259.5" y1="151.8" x2="310.4" y2="169.8" stroke="#6a9bc4" stroke-width="0.9" stroke-dasharray="1.5 0.7" opacity="0.85"/>
<line x1="260.8" y1="148.2" x2="311.6" y2="166.2" stroke="#6a9bc4" stroke-width="0.9" stroke-dasharray="1.5 0.7" opacity="0.85"/>
</g>
<g clip-path="url(#c2)">
<line x1="168.8" y1="176.0" x2="149.0" y2="194.0" stroke="#9fc9e6" stroke-width="4.2" opacity="0.9"/>
<line x1="168.8" y1="176.0" x2="149.0" y2="194.0" stroke="#cfe6f6" stroke-width="2.6" stroke-dasharray="1.0 1.4" opacity="0.9"/>
<line x1="167.4" y1="174.4" x2="147.6" y2="192.4" stroke="#6a9bc4" stroke-width="0.9" stroke-dasharray="1.5 0.7" opacity="0.85"/>
<line x1="170.2" y1="177.6" x2="150.4" y2="195.6" stroke="#6a9bc4" stroke-width="0.9" stroke-dasharray="1.5 0.7" opacity="0.85"/>
<line x1="177.2" y1="176.0" x2="161.0" y2="194.0" stroke="#9fc9e6" stroke-width="4.2" opacity="0.9"/>
<line x1="177.2" y1="176.0" x2="161.0" y2="194.0" stroke="#cfe6f6" stroke-width="2.6" stroke-dasharray="1.0 1.4" opacity="0.9"/>
<line x1="175.6" y1="174.6" x2="159.4" y2="192.6" stroke="#6a9bc4" stroke-width="0.9" stroke-dasharray="1.5 0.7" opacity="0.85"/>
<line x1="178.8" y1="177.4" x2="162.6" y2="195.4" stroke="#6a9bc4" stroke-width="0.9" stroke-dasharray="1.5 0.7" opacity="0.85"/>
<line x1="185.6" y1="176.0" x2="173.0" y2="194.0" stroke="#9fc9e6" stroke-width="4.2" opacity="0.9"/>
<line x1="185.6" y1="176.0" x2="173.0" y2="194.0" stroke="#cfe6f6" stroke-width="2.6" stroke-dasharray="1.0 1.4" opacity="0.9"/>
<line x1="183.9" y1="174.8" x2="171.3" y2="192.8" stroke="#6a9bc4" stroke-width="0.9" stroke-dasharray="1.5 0.7" opacity="0.85"/>
<line x1="187.3" y1="177.2" x2="174.7" y2="195.2" stroke="#6a9bc4" stroke-width="0.9" stroke-dasharray="1.5 0.7" opacity="0.85"/>
<line x1="194.0" y1="176.0" x2="185.0" y2="194.0" stroke="#9fc9e6" stroke-width="4.2" opacity="0.9"/>
<line x1="194.0" y1="176.0" x2="185.0" y2="194.0" stroke="#cfe6f6" stroke-width="2.6" stroke-dasharray="1.0 1.4" opacity="0.9"/>
<line x1="192.1" y1="175.1" x2="183.1" y2="193.1" stroke="#6a9bc4" stroke-width="0.9" stroke-dasharray="1.5 0.7" opacity="0.85"/>
<line x1="195.9" y1="176.9" x2="186.9" y2="194.9" stroke="#6a9bc4" stroke-width="0.9" stroke-dasharray="1.5 0.7" opacity="0.85"/>
<line x1="202.4" y1="176.0" x2="197.0" y2="194.0" stroke="#9fc9e6" stroke-width="4.2" opacity="0.9"/>
<line x1="202.4" y1="176.0" x2="197.0" y2="194.0" stroke="#cfe6f6" stroke-width="2.6" stroke-dasharray="1.0 1.4" opacity="0.9"/>
<line x1="200.4" y1="175.4" x2="195.0" y2="193.4" stroke="#6a9bc4" stroke-width="0.9" stroke-dasharray="1.5 0.7" opacity="0.85"/>
<line x1="204.4" y1="176.6" x2="199.0" y2="194.6" stroke="#6a9bc4" stroke-width="0.9" stroke-dasharray="1.5 0.7" opacity="0.85"/>
<line x1="210.8" y1="176.0" x2="209.0" y2="194.0" stroke="#9fc9e6" stroke-width="4.2" opacity="0.9"/>
<line x1="210.8" y1="176.0" x2="209.0" y2="194.0" stroke="#cfe6f6" stroke-width="2.6" stroke-dasharray="1.0 1.4" opacity="0.9"/>
<line x1="208.7" y1="175.8" x2="206.9" y2="193.8" stroke="#6a9bc4" stroke-width="0.9" stroke-dasharray="1.5 0.7" opacity="0.85"/>
<line x1="212.9" y1="176.2" x2="211.1" y2="194.2" stroke="#6a9bc4" stroke-width="0.9" stroke-dasharray="1.5 0.7" opacity="0.85"/>
<line x1="219.2" y1="176.0" x2="221.0" y2="194.0" stroke="#9fc9e6" stroke-width="4.2" opacity="0.9"/>
<line x1="219.2" y1="176.0" x2="221.0" y2="194.0" stroke="#cfe6f6" stroke-width="2.6" stroke-dasharray="1.0 1.4" opacity="0.9"/>
<line x1="217.1" y1="176.2" x2="218.9" y2="194.2" stroke="#6a9bc4" stroke-width="0.9" stroke-dasharray="1.5 0.7" opacity="0.85"/>
<line x1="221.3" y1="175.8" x2="223.1" y2="193.8" stroke="#6a9bc4" stroke-width="0.9" stroke-dasharray="1.5 0.7" opacity="0.85"/>
<line x1="227.6" y1="176.0" x2="233.0" y2="194.0" stroke="#9fc9e6" stroke-width="4.2" opacity="0.9"/>
<line x1="227.6" y1="176.0" x2="233.0" y2="194.0" stroke="#cfe6f6" stroke-width="2.6" stroke-dasharray="1.0 1.4" opacity="0.9"/>
<line x1="225.6" y1="176.6" x2="231.0" y2="194.6" stroke="#6a9bc4" stroke-width="0.9" stroke-dasharray="1.5 0.7" opacity="0.85"/>
<line x1="229.6" y1="175.4" x2="235.0" y2="193.4" stroke="#6a9bc4" stroke-width="0.9" stroke-dasharray="1.5 0.7" opacity="0.85"/>
<line x1="236.0" y1="176.0" x2="245.0" y2="194.0" stroke="#9fc9e6" stroke-width="4.2" opacity="0.9"/>
<line x1="236.0" y1="176.0" x2="245.0" y2="194.0" stroke="#cfe6f6" stroke-width="2.6" stroke-dasharray="1.0 1.4" opacity="0.9"/>
<line x1="234.1" y1="176.9" x2="243.1" y2="194.9" stroke="#6a9bc4" stroke-width="0.9" stroke-dasharray="1.5 0.7" opacity="0.85"/>
<line x1="237.9" y1="175.1" x2="246.9" y2="193.1" stroke="#6a9bc4" stroke-width="0.9" stroke-dasharray="1.5 0.7" opacity="0.85"/>
<line x1="244.4" y1="176.0" x2="257.0" y2="194.0" stroke="#9fc9e6" stroke-width="4.2" opacity="0.9"/>
<line x1="244.4" y1="176.0" x2="257.0" y2="194.0" stroke="#cfe6f6" stroke-width="2.6" stroke-dasharray="1.0 1.4" opacity="0.9"/>
<line x1="242.7" y1="177.2" x2="255.3" y2="195.2" stroke="#6a9bc4" stroke-width="0.9" stroke-dasharray="1.5 0.7" opacity="0.85"/>
<line x1="246.1" y1="174.8" x2="258.7" y2="192.8" stroke="#6a9bc4" stroke-width="0.9" stroke-dasharray="1.5 0.7" opacity="0.85"/>
<line x1="252.8" y1="176.0" x2="269.0" y2="194.0" stroke="#9fc9e6" stroke-width="4.2" opacity="0.9"/>
<line x1="252.8" y1="176.0" x2="269.0" y2="194.0" stroke="#cfe6f6" stroke-width="2.6" stroke-dasharray="1.0 1.4" opacity="0.9"/>
<line x1="251.2" y1="177.4" x2="267.4" y2="195.4" stroke="#6a9bc4" stroke-width="0.9" stroke-dasharray="1.5 0.7" opacity="0.85"/>
<line x1="254.4" y1="174.6" x2="270.6" y2="192.6" stroke="#6a9bc4" stroke-width="0.9" stroke-dasharray="1.5 0.7" opacity="0.85"/>
<line x1="261.2" y1="176.0" x2="281.0" y2="194.0" stroke="#9fc9e6" stroke-width="4.2" opacity="0.9"/>
<line x1="261.2" y1="176.0" x2="281.0" y2="194.0" stroke="#cfe6f6" stroke-width="2.6" stroke-dasharray="1.0 1.4" opacity="0.9"/>
<line x1="259.8" y1="177.6" x2="279.6" y2="195.6" stroke="#6a9bc4" stroke-width="0.9" stroke-dasharray="1.5 0.7" opacity="0.85"/>
<line x1="262.6" y1="174.4" x2="282.4" y2="192.4" stroke="#6a9bc4" stroke-width="0.9" stroke-dasharray="1.5 0.7" opacity="0.85"/>
</g>
<g>
<line x1="326.0" y1="38.0" x2="432.0" y2="38.0" stroke="#c3c8d4" stroke-width="0.6"/>
<line x1="331.6" y1="45.0" x2="426.0" y2="45.0" stroke="#c3c8d4" stroke-width="0.6"/>
<line x1="337.2" y1="52.0" x2="420.0" y2="52.0" stroke="#c3c8d4" stroke-width="0.6"/>
<line x1="342.7" y1="59.0" x2="414.0" y2="59.0" stroke="#c3c8d4" stroke-width="0.6"/>
<line x1="348.3" y1="66.0" x2="407.9" y2="66.0" stroke="#c3c8d4" stroke-width="0.6"/>
<line x1="353.9" y1="73.0" x2="401.9" y2="73.0" stroke="#c3c8d4" stroke-width="0.6"/>
<line x1="359.5" y1="80.0" x2="395.9" y2="80.0" stroke="#c3c8d4" stroke-width="0.6"/>
<line x1="326.0" y1="38.0" x2="359.5" y2="80.0" stroke="#cd6f8b" stroke-width="1.5" stroke-linecap="round"/>
<circle cx="326.0" cy="38.0" r="2.10" fill="#cd6f8b"/>
<circle cx="330.2" cy="43.2" r="2.02" fill="#cd6f8b"/>
<circle cx="334.4" cy="48.5" r="1.95" fill="#cd6f8b"/>
<circle cx="338.6" cy="53.8" r="1.88" fill="#cd6f8b"/>
<circle cx="342.7" cy="59.0" r="1.80" fill="#cd6f8b"/>
<circle cx="346.9" cy="64.2" r="1.73" fill="#cd6f8b"/>
<circle cx="351.1" cy="69.5" r="1.65" fill="#cd6f8b"/>
<circle cx="355.3" cy="74.8" r="1.58" fill="#cd6f8b"/>
<circle cx="359.5" cy="80.0" r="1.50" fill="#cd6f8b"/>
<line x1="333.6" y1="38.0" x2="362.1" y2="80.0" stroke="#cd6f8b" stroke-width="1.5" stroke-linecap="round"/>
<circle cx="333.6" cy="38.0" r="2.10" fill="#cd6f8b"/>
<circle cx="337.1" cy="43.2" r="2.02" fill="#cd6f8b"/>
<circle cx="340.7" cy="48.5" r="1.95" fill="#cd6f8b"/>
<circle cx="344.3" cy="53.8" r="1.88" fill="#cd6f8b"/>
<circle cx="347.8" cy="59.0" r="1.80" fill="#cd6f8b"/>
<circle cx="351.4" cy="64.2" r="1.73" fill="#cd6f8b"/>
<circle cx="354.9" cy="69.5" r="1.65" fill="#cd6f8b"/>
<circle cx="358.5" cy="74.8" r="1.58" fill="#cd6f8b"/>
<circle cx="362.1" cy="80.0" r="1.50" fill="#cd6f8b"/>
<line x1="341.1" y1="38.0" x2="364.7" y2="80.0" stroke="#cd6f8b" stroke-width="1.5" stroke-linecap="round"/>
<circle cx="341.1" cy="38.0" r="2.10" fill="#cd6f8b"/>
<circle cx="344.1" cy="43.2" r="2.02" fill="#cd6f8b"/>
<circle cx="347.0" cy="48.5" r="1.95" fill="#cd6f8b"/>
<circle cx="350.0" cy="53.8" r="1.88" fill="#cd6f8b"/>
<circle cx="352.9" cy="59.0" r="1.80" fill="#cd6f8b"/>
<circle cx="355.8" cy="64.2" r="1.73" fill="#cd6f8b"/>
<circle cx="358.8" cy="69.5" r="1.65" fill="#cd6f8b"/>
<circle cx="361.7" cy="74.8" r="1.58" fill="#cd6f8b"/>
<circle cx="364.7" cy="80.0" r="1.50" fill="#cd6f8b"/>
<line x1="348.7" y1="38.0" x2="367.3" y2="80.0" stroke="#cd6f8b" stroke-width="1.5" stroke-linecap="round"/>
<circle cx="348.7" cy="38.0" r="2.10" fill="#cd6f8b"/>
<circle cx="351.0" cy="43.2" r="2.02" fill="#cd6f8b"/>
<circle cx="353.4" cy="48.5" r="1.95" fill="#cd6f8b"/>
<circle cx="355.7" cy="53.8" r="1.88" fill="#cd6f8b"/>
<circle cx="358.0" cy="59.0" r="1.80" fill="#cd6f8b"/>
<circle cx="360.3" cy="64.2" r="1.73" fill="#cd6f8b"/>
<circle cx="362.6" cy="69.5" r="1.65" fill="#cd6f8b"/>
<circle cx="365.0" cy="74.8" r="1.58" fill="#cd6f8b"/>
<circle cx="367.3" cy="80.0" r="1.50" fill="#cd6f8b"/>
<line x1="356.3" y1="38.0" x2="369.9" y2="80.0" stroke="#cd6f8b" stroke-width="1.5" stroke-linecap="round"/>
<circle cx="356.3" cy="38.0" r="2.10" fill="#cd6f8b"/>
<circle cx="358.0" cy="43.2" r="2.02" fill="#cd6f8b"/>
<circle cx="359.7" cy="48.5" r="1.95" fill="#cd6f8b"/>
<circle cx="361.4" cy="53.8" r="1.88" fill="#cd6f8b"/>
<circle cx="363.1" cy="59.0" r="1.80" fill="#cd6f8b"/>
<circle cx="364.8" cy="64.2" r="1.73" fill="#cd6f8b"/>
<circle cx="366.5" cy="69.5" r="1.65" fill="#cd6f8b"/>
<circle cx="368.2" cy="74.8" r="1.58" fill="#cd6f8b"/>
<circle cx="369.9" cy="80.0" r="1.50" fill="#cd6f8b"/>
<line x1="363.9" y1="38.0" x2="372.5" y2="80.0" stroke="#cd6f8b" stroke-width="1.5" stroke-linecap="round"/>
<circle cx="363.9" cy="38.0" r="2.10" fill="#cd6f8b"/>
<circle cx="364.9" cy="43.2" r="2.02" fill="#cd6f8b"/>
<circle cx="366.0" cy="48.5" r="1.95" fill="#cd6f8b"/>
<circle cx="367.1" cy="53.8" r="1.88" fill="#cd6f8b"/>
<circle cx="368.2" cy="59.0" r="1.80" fill="#cd6f8b"/>
<circle cx="369.2" cy="64.2" r="1.73" fill="#cd6f8b"/>
<circle cx="370.3" cy="69.5" r="1.65" fill="#cd6f8b"/>
<circle cx="371.4" cy="74.8" r="1.58" fill="#cd6f8b"/>
<circle cx="372.5" cy="80.0" r="1.50" fill="#cd6f8b"/>
<line x1="371.4" y1="38.0" x2="375.1" y2="80.0" stroke="#cd6f8b" stroke-width="1.5" stroke-linecap="round"/>
<circle cx="371.4" cy="38.0" r="2.10" fill="#cd6f8b"/>
<circle cx="371.9" cy="43.2" r="2.02" fill="#cd6f8b"/>
<circle cx="372.3" cy="48.5" r="1.95" fill="#cd6f8b"/>
<circle cx="372.8" cy="53.8" r="1.88" fill="#cd6f8b"/>
<circle cx="373.3" cy="59.0" r="1.80" fill="#cd6f8b"/>
<circle cx="373.7" cy="64.2" r="1.73" fill="#cd6f8b"/>
<circle cx="374.2" cy="69.5" r="1.65" fill="#cd6f8b"/>
<circle cx="374.6" cy="74.8" r="1.58" fill="#cd6f8b"/>
<circle cx="375.1" cy="80.0" r="1.50" fill="#cd6f8b"/>
<line x1="379.0" y1="38.0" x2="377.7" y2="80.0" stroke="#cd6f8b" stroke-width="1.5" stroke-linecap="round"/>
<circle cx="379.0" cy="38.0" r="2.10" fill="#cd6f8b"/>
<circle cx="378.8" cy="43.2" r="2.02" fill="#cd6f8b"/>
<circle cx="378.7" cy="48.5" r="1.95" fill="#cd6f8b"/>
<circle cx="378.5" cy="53.8" r="1.88" fill="#cd6f8b"/>
<circle cx="378.3" cy="59.0" r="1.80" fill="#cd6f8b"/>
<circle cx="378.2" cy="64.2" r="1.73" fill="#cd6f8b"/>
<circle cx="378.0" cy="69.5" r="1.65" fill="#cd6f8b"/>
<circle cx="377.9" cy="74.8" r="1.58" fill="#cd6f8b"/>
<circle cx="377.7" cy="80.0" r="1.50" fill="#cd6f8b"/>
<line x1="386.6" y1="38.0" x2="380.3" y2="80.0" stroke="#cd6f8b" stroke-width="1.5" stroke-linecap="round"/>
<circle cx="386.6" cy="38.0" r="2.10" fill="#cd6f8b"/>
<circle cx="385.8" cy="43.2" r="2.02" fill="#cd6f8b"/>
<circle cx="385.0" cy="48.5" r="1.95" fill="#cd6f8b"/>
<circle cx="384.2" cy="53.8" r="1.88" fill="#cd6f8b"/>
<circle cx="383.4" cy="59.0" r="1.80" fill="#cd6f8b"/>
<circle cx="382.6" cy="64.2" r="1.73" fill="#cd6f8b"/>
<circle cx="381.9" cy="69.5" r="1.65" fill="#cd6f8b"/>
<circle cx="381.1" cy="74.8" r="1.58" fill="#cd6f8b"/>
<circle cx="380.3" cy="80.0" r="1.50" fill="#cd6f8b"/>
<line x1="394.1" y1="38.0" x2="382.9" y2="80.0" stroke="#cd6f8b" stroke-width="1.5" stroke-linecap="round"/>
<circle cx="394.1" cy="38.0" r="2.10" fill="#cd6f8b"/>
<circle cx="392.7" cy="43.2" r="2.02" fill="#cd6f8b"/>
<circle cx="391.3" cy="48.5" r="1.95" fill="#cd6f8b"/>
<circle cx="389.9" cy="53.8" r="1.88" fill="#cd6f8b"/>
<circle cx="388.5" cy="59.0" r="1.80" fill="#cd6f8b"/>
<circle cx="387.1" cy="64.2" r="1.73" fill="#cd6f8b"/>
<circle cx="385.7" cy="69.5" r="1.65" fill="#cd6f8b"/>
<circle cx="384.3" cy="74.8" r="1.58" fill="#cd6f8b"/>
<circle cx="382.9" cy="80.0" r="1.50" fill="#cd6f8b"/>
<line x1="401.7" y1="38.0" x2="385.5" y2="80.0" stroke="#cd6f8b" stroke-width="1.5" stroke-linecap="round"/>
<circle cx="401.7" cy="38.0" r="2.10" fill="#cd6f8b"/>
<circle cx="399.7" cy="43.2" r="2.02" fill="#cd6f8b"/>
<circle cx="397.7" cy="48.5" r="1.95" fill="#cd6f8b"/>
<circle cx="395.6" cy="53.8" r="1.88" fill="#cd6f8b"/>
<circle cx="393.6" cy="59.0" r="1.80" fill="#cd6f8b"/>
<circle cx="391.6" cy="64.2" r="1.73" fill="#cd6f8b"/>
<circle cx="389.6" cy="69.5" r="1.65" fill="#cd6f8b"/>
<circle cx="387.5" cy="74.8" r="1.58" fill="#cd6f8b"/>
<circle cx="385.5" cy="80.0" r="1.50" fill="#cd6f8b"/>
<line x1="409.3" y1="38.0" x2="388.1" y2="80.0" stroke="#cd6f8b" stroke-width="1.5" stroke-linecap="round"/>
<circle cx="409.3" cy="38.0" r="2.10" fill="#cd6f8b"/>
<circle cx="406.6" cy="43.2" r="2.02" fill="#cd6f8b"/>
<circle cx="404.0" cy="48.5" r="1.95" fill="#cd6f8b"/>
<circle cx="401.3" cy="53.8" r="1.88" fill="#cd6f8b"/>
<circle cx="398.7" cy="59.0" r="1.80" fill="#cd6f8b"/>
<circle cx="396.0" cy="64.2" r="1.73" fill="#cd6f8b"/>
<circle cx="393.4" cy="69.5" r="1.65" fill="#cd6f8b"/>
<circle cx="390.7" cy="74.8" r="1.58" fill="#cd6f8b"/>
<circle cx="388.1" cy="80.0" r="1.50" fill="#cd6f8b"/>
<line x1="416.9" y1="38.0" x2="390.7" y2="80.0" stroke="#cd6f8b" stroke-width="1.5" stroke-linecap="round"/>
<circle cx="416.9" cy="38.0" r="2.10" fill="#cd6f8b"/>
<circle cx="413.6" cy="43.2" r="2.02" fill="#cd6f8b"/>
<circle cx="410.3" cy="48.5" r="1.95" fill="#cd6f8b"/>
<circle cx="407.0" cy="53.8" r="1.88" fill="#cd6f8b"/>
<circle cx="403.8" cy="59.0" r="1.80" fill="#cd6f8b"/>
<circle cx="400.5" cy="64.2" r="1.73" fill="#cd6f8b"/>
<circle cx="397.2" cy="69.5" r="1.65" fill="#cd6f8b"/>
<circle cx="394.0" cy="74.8" r="1.58" fill="#cd6f8b"/>
<circle cx="390.7" cy="80.0" r="1.50" fill="#cd6f8b"/>
<line x1="424.4" y1="38.0" x2="393.3" y2="80.0" stroke="#cd6f8b" stroke-width="1.5" stroke-linecap="round"/>
<circle cx="424.4" cy="38.0" r="2.10" fill="#cd6f8b"/>
<circle cx="420.5" cy="43.2" r="2.02" fill="#cd6f8b"/>
<circle cx="416.6" cy="48.5" r="1.95" fill="#cd6f8b"/>
<circle cx="412.8" cy="53.8" r="1.88" fill="#cd6f8b"/>
<circle cx="408.9" cy="59.0" r="1.80" fill="#cd6f8b"/>
<circle cx="405.0" cy="64.2" r="1.73" fill="#cd6f8b"/>
<circle cx="401.1" cy="69.5" r="1.65" fill="#cd6f8b"/>
<circle cx="397.2" cy="74.8" r="1.58" fill="#cd6f8b"/>
<circle cx="393.3" cy="80.0" r="1.50" fill="#cd6f8b"/>
<line x1="432.0" y1="38.0" x2="395.9" y2="80.0" stroke="#cd6f8b" stroke-width="1.5" stroke-linecap="round"/>
<circle cx="432.0" cy="38.0" r="2.10" fill="#cd6f8b"/>
<circle cx="427.5" cy="43.2" r="2.02" fill="#cd6f8b"/>
<circle cx="423.0" cy="48.5" r="1.95" fill="#cd6f8b"/>
<circle cx="418.5" cy="53.8" r="1.88" fill="#cd6f8b"/>
<circle cx="414.0" cy="59.0" r="1.80" fill="#cd6f8b"/>
<circle cx="409.4" cy="64.2" r="1.73" fill="#cd6f8b"/>
<circle cx="404.9" cy="69.5" r="1.65" fill="#cd6f8b"/>
<circle cx="400.4" cy="74.8" r="1.58" fill="#cd6f8b"/>
<circle cx="395.9" cy="80.0" r="1.50" fill="#cd6f8b"/>
</g>
<line x1="321.5" y1="64.5" x2="321.5" y2="76.5" stroke="#c6cedb" stroke-width="1.2"/>
<line x1="326.0" y1="65.1" x2="326.0" y2="77.4" stroke="#c6cedb" stroke-width="1.2"/>
<line x1="330.5" y1="65.7" x2="330.5" y2="78.3" stroke="#c6cedb" stroke-width="1.2"/>
<line x1="335.0" y1="66.3" x2="335.0" y2="79.2" stroke="#c6cedb" stroke-width="1.2"/>
<line x1="339.5" y1="66.9" x2="339.5" y2="80.1" stroke="#c6cedb" stroke-width="1.2"/>
<line x1="321.5" y1="64.5" x2="339.5" y2="67" stroke="#c3c8d4" stroke-width="0.8"/>
<line x1="321.5" y1="76.5" x2="339.5" y2="80" stroke="#c3c8d4" stroke-width="0.8"/>
<circle cx="321.5" cy="64.5" r="1.8" fill="#cd6f8b"/>
<circle cx="326.0" cy="65.1" r="1.8" fill="#cd6f8b"/>
<circle cx="330.5" cy="65.7" r="1.8" fill="#cd6f8b"/>
<circle cx="335.0" cy="66.3" r="1.8" fill="#cd6f8b"/>
<circle cx="339.5" cy="66.9" r="1.8" fill="#cd6f8b"/>
<circle cx="321.5" cy="76.5" r="1.8" fill="#cd6f8b"/>
<circle cx="326.0" cy="77.4" r="1.8" fill="#cd6f8b"/>
<circle cx="330.5" cy="78.3" r="1.8" fill="#cd6f8b"/>
<circle cx="335.0" cy="79.2" r="1.8" fill="#cd6f8b"/>
<circle cx="339.5" cy="80.1" r="1.8" fill="#cd6f8b"/>
<circle cx="323.5" cy="70.0" r="1.6" fill="#cd6f8b"/>
<circle cx="328.0" cy="70.8" r="1.6" fill="#cd6f8b"/>
<circle cx="332.5" cy="71.6" r="1.6" fill="#cd6f8b"/>
<circle cx="322.0" cy="46.0" r="1.8" fill="#cd6f8b"/>
<circle cx="326.5" cy="49.4" r="1.8" fill="#cd6f8b"/>
<circle cx="331.0" cy="52.8" r="1.8" fill="#cd6f8b"/>
<circle cx="323.5" cy="57.0" r="1.6" fill="#cd6f8b"/>
<circle cx="328.0" cy="59.4" r="1.6" fill="#cd6f8b"/>
<circle cx="332.5" cy="61.8" r="1.6" fill="#cd6f8b"/>
<line x1="436.5" y1="64.5" x2="436.5" y2="76.5" stroke="#c6cedb" stroke-width="1.2"/>
<line x1="432.0" y1="65.1" x2="432.0" y2="77.4" stroke="#c6cedb" stroke-width="1.2"/>
<line x1="427.5" y1="65.7" x2="427.5" y2="78.3" stroke="#c6cedb" stroke-width="1.2"/>
<line x1="423.0" y1="66.3" x2="423.0" y2="79.2" stroke="#c6cedb" stroke-width="1.2"/>
<line x1="418.5" y1="66.9" x2="418.5" y2="80.1" stroke="#c6cedb" stroke-width="1.2"/>
<line x1="436.5" y1="64.5" x2="418.5" y2="67" stroke="#c3c8d4" stroke-width="0.8"/>
<line x1="436.5" y1="76.5" x2="418.5" y2="80" stroke="#c3c8d4" stroke-width="0.8"/>
<circle cx="436.5" cy="64.5" r="1.8" fill="#cd6f8b"/>
<circle cx="432.0" cy="65.1" r="1.8" fill="#cd6f8b"/>
<circle cx="427.5" cy="65.7" r="1.8" fill="#cd6f8b"/>
<circle cx="423.0" cy="66.3" r="1.8" fill="#cd6f8b"/>
<circle cx="418.5" cy="66.9" r="1.8" fill="#cd6f8b"/>
<circle cx="436.5" cy="76.5" r="1.8" fill="#cd6f8b"/>
<circle cx="432.0" cy="77.4" r="1.8" fill="#cd6f8b"/>
<circle cx="427.5" cy="78.3" r="1.8" fill="#cd6f8b"/>
<circle cx="423.0" cy="79.2" r="1.8" fill="#cd6f8b"/>
<circle cx="418.5" cy="80.1" r="1.8" fill="#cd6f8b"/>
<circle cx="434.5" cy="70.0" r="1.6" fill="#cd6f8b"/>
<circle cx="430.0" cy="70.8" r="1.6" fill="#cd6f8b"/>
<circle cx="425.5" cy="71.6" r="1.6" fill="#cd6f8b"/>
<circle cx="436.0" cy="46.0" r="1.8" fill="#cd6f8b"/>
<circle cx="431.5" cy="49.4" r="1.8" fill="#cd6f8b"/>
<circle cx="427.0" cy="52.8" r="1.8" fill="#cd6f8b"/>
<circle cx="434.5" cy="57.0" r="1.6" fill="#cd6f8b"/>
<circle cx="430.0" cy="59.4" r="1.6" fill="#cd6f8b"/>
<circle cx="425.5" cy="61.8" r="1.6" fill="#cd6f8b"/>
<line x1="324.0" y1="93.2" x2="324.0" y2="105.4" stroke="#c6cedb" stroke-width="2.0"/>
<line x1="327.4" y1="93.2" x2="327.4" y2="105.4" stroke="#c6cedb" stroke-width="2.0"/>
<line x1="331.7" y1="93.2" x2="331.7" y2="105.4" stroke="#c6cedb" stroke-width="2.0"/>
<line x1="336.7" y1="93.2" x2="336.7" y2="105.4" stroke="#c6cedb" stroke-width="2.0"/>
<line x1="342.5" y1="93.2" x2="342.5" y2="105.4" stroke="#c6cedb" stroke-width="2.0"/>
<line x1="348.9" y1="93.2" x2="348.9" y2="105.4" stroke="#c6cedb" stroke-width="2.0"/>
<line x1="355.8" y1="93.2" x2="355.8" y2="105.4" stroke="#c6cedb" stroke-width="2.0"/>
<line x1="363.1" y1="93.2" x2="363.1" y2="105.4" stroke="#c6cedb" stroke-width="2.0"/>
<line x1="370.7" y1="93.2" x2="370.7" y2="105.4" stroke="#c6cedb" stroke-width="2.0"/>
<line x1="378.5" y1="93.2" x2="378.5" y2="105.4" stroke="#c6cedb" stroke-width="2.0"/>
<line x1="386.3" y1="93.2" x2="386.3" y2="105.4" stroke="#c6cedb" stroke-width="2.0"/>
<line x1="393.9" y1="93.2" x2="393.9" y2="105.4" stroke="#c6cedb" stroke-width="2.0"/>
<line x1="401.2" y1="93.2" x2="401.2" y2="105.4" stroke="#c6cedb" stroke-width="2.0"/>
<line x1="408.1" y1="93.2" x2="408.1" y2="105.4" stroke="#c6cedb" stroke-width="2.0"/>
<line x1="414.5" y1="93.2" x2="414.5" y2="105.4" stroke="#c6cedb" stroke-width="2.0"/>
<line x1="420.3" y1="93.2" x2="420.3" y2="105.4" stroke="#c6cedb" stroke-width="2.0"/>
<line x1="425.3" y1="93.2" x2="425.3" y2="105.4" stroke="#c6cedb" stroke-width="2.0"/>
<line x1="429.6" y1="93.2" x2="429.6" y2="105.4" stroke="#c6cedb" stroke-width="2.0"/>
<line x1="433.0" y1="93.2" x2="433.0" y2="105.4" stroke="#c6cedb" stroke-width="2.0"/>
<line x1="324.0" y1="93.2" x2="433.0" y2="93.2" stroke="#d79cb0" stroke-width="1.1"/>
<line x1="321.3" y1="105.4" x2="435.8" y2="105.4" stroke="#d79cb0" stroke-width="1.1"/>
<circle cx="324.0" cy="93.2" r="1.9" fill="#cd6f8b"/>
<circle cx="327.4" cy="93.2" r="1.9" fill="#cd6f8b"/>
<circle cx="331.7" cy="93.2" r="1.9" fill="#cd6f8b"/>
<circle cx="336.7" cy="93.2" r="1.9" fill="#cd6f8b"/>
<circle cx="342.5" cy="93.2" r="1.9" fill="#cd6f8b"/>
<circle cx="348.9" cy="93.2" r="1.9" fill="#cd6f8b"/>
<circle cx="355.8" cy="93.2" r="1.9" fill="#cd6f8b"/>
<circle cx="363.1" cy="93.2" r="1.9" fill="#cd6f8b"/>
<circle cx="370.7" cy="93.2" r="1.9" fill="#cd6f8b"/>
<circle cx="378.5" cy="93.2" r="1.9" fill="#cd6f8b"/>
<circle cx="386.3" cy="93.2" r="1.9" fill="#cd6f8b"/>
<circle cx="393.9" cy="93.2" r="1.9" fill="#cd6f8b"/>
<circle cx="401.2" cy="93.2" r="1.9" fill="#cd6f8b"/>
<circle cx="408.1" cy="93.2" r="1.9" fill="#cd6f8b"/>
<circle cx="414.5" cy="93.2" r="1.9" fill="#cd6f8b"/>
<circle cx="420.3" cy="93.2" r="1.9" fill="#cd6f8b"/>
<circle cx="425.3" cy="93.2" r="1.9" fill="#cd6f8b"/>
<circle cx="429.6" cy="93.2" r="1.9" fill="#cd6f8b"/>
<circle cx="433.0" cy="93.2" r="1.9" fill="#cd6f8b"/>
<circle cx="321.3" cy="105.4" r="1.9" fill="#cd6f8b"/>
<circle cx="324.7" cy="105.4" r="1.9" fill="#cd6f8b"/>
<circle cx="328.9" cy="105.4" r="1.9" fill="#cd6f8b"/>
<circle cx="333.8" cy="105.4" r="1.9" fill="#cd6f8b"/>
<circle cx="339.4" cy="105.4" r="1.9" fill="#cd6f8b"/>
<circle cx="345.6" cy="105.4" r="1.9" fill="#cd6f8b"/>
<circle cx="352.3" cy="105.4" r="1.9" fill="#cd6f8b"/>
<circle cx="359.5" cy="105.4" r="1.9" fill="#cd6f8b"/>
<circle cx="367.0" cy="105.4" r="1.9" fill="#cd6f8b"/>
<circle cx="374.7" cy="105.4" r="1.9" fill="#cd6f8b"/>
<circle cx="382.4" cy="105.4" r="1.9" fill="#cd6f8b"/>
<circle cx="390.1" cy="105.4" r="1.9" fill="#cd6f8b"/>
<circle cx="397.6" cy="105.4" r="1.9" fill="#cd6f8b"/>
<circle cx="404.8" cy="105.4" r="1.9" fill="#cd6f8b"/>
<circle cx="411.5" cy="105.4" r="1.9" fill="#cd6f8b"/>
<circle cx="417.7" cy="105.4" r="1.9" fill="#cd6f8b"/>
<circle cx="423.3" cy="105.4" r="1.9" fill="#cd6f8b"/>
<circle cx="428.2" cy="105.4" r="1.9" fill="#cd6f8b"/>
<circle cx="432.4" cy="105.4" r="1.9" fill="#cd6f8b"/>
<circle cx="435.8" cy="105.4" r="1.9" fill="#cd6f8b"/>
<line x1="321.7" y1="128" x2="337.5" y2="128" stroke="#6a9bc4" stroke-width="2" stroke-linecap="round"/>
<line x1="321.7" y1="128" x2="337.5" y2="128" stroke="#9fc9e6" stroke-width="1" stroke-dasharray="1.5 1.5"/>
<line x1="342.4" y1="128" x2="354.6" y2="128" stroke="#6a9bc4" stroke-width="2" stroke-linecap="round"/>
<line x1="342.4" y1="128" x2="354.6" y2="128" stroke="#9fc9e6" stroke-width="1" stroke-dasharray="1.5 1.5"/>
<line x1="361.9" y1="128" x2="371.7" y2="128" stroke="#6a9bc4" stroke-width="2" stroke-linecap="round"/>
<line x1="361.9" y1="128" x2="371.7" y2="128" stroke="#9fc9e6" stroke-width="1" stroke-dasharray="1.5 1.5"/>
<line x1="386.3" y1="128" x2="396.1" y2="128" stroke="#6a9bc4" stroke-width="2" stroke-linecap="round"/>
<line x1="386.3" y1="128" x2="396.1" y2="128" stroke="#9fc9e6" stroke-width="1" stroke-dasharray="1.5 1.5"/>
<line x1="403.4" y1="128" x2="415.6" y2="128" stroke="#6a9bc4" stroke-width="2" stroke-linecap="round"/>
<line x1="403.4" y1="128" x2="415.6" y2="128" stroke="#9fc9e6" stroke-width="1" stroke-dasharray="1.5 1.5"/>
<line x1="420.5" y1="128" x2="436.3" y2="128" stroke="#6a9bc4" stroke-width="2" stroke-linecap="round"/>
<line x1="420.5" y1="128" x2="436.3" y2="128" stroke="#9fc9e6" stroke-width="1" stroke-dasharray="1.5 1.5"/>
<line x1="318.0" y1="138.8" x2="335.1" y2="136.2" stroke="#9fc9e6" stroke-width="2.6" stroke-linecap="round"/>
<line x1="318.0" y1="138.8" x2="335.1" y2="136.2" stroke="#6a9bc4" stroke-width="0.8" stroke-dasharray="1.2 1.4" opacity="0.7"/>
<line x1="338.7" y1="138.8" x2="354.6" y2="136.2" stroke="#9fc9e6" stroke-width="2.6" stroke-linecap="round"/>
<line x1="338.7" y1="138.8" x2="354.6" y2="136.2" stroke="#6a9bc4" stroke-width="0.8" stroke-dasharray="1.2 1.4" opacity="0.7"/>
<line x1="403.4" y1="136.2" x2="419.3" y2="138.8" stroke="#9fc9e6" stroke-width="2.6" stroke-linecap="round"/>
<line x1="403.4" y1="136.2" x2="419.3" y2="138.8" stroke="#6a9bc4" stroke-width="0.8" stroke-dasharray="1.2 1.4" opacity="0.7"/>
<line x1="422.9" y1="136.2" x2="440.0" y2="138.8" stroke="#9fc9e6" stroke-width="2.6" stroke-linecap="round"/>
<line x1="422.9" y1="136.2" x2="440.0" y2="138.8" stroke="#6a9bc4" stroke-width="0.8" stroke-dasharray="1.2 1.4" opacity="0.7"/>
<path d="M359.9,129 L361.9,139.0 L364.4,131" stroke="#9fc9e6" stroke-width="2" fill="none" stroke-linejoin="round"/>
<path d="M367.2,129 L369.2,139.0 L371.7,131" stroke="#9fc9e6" stroke-width="2" fill="none" stroke-linejoin="round"/>
<path d="M374.6,129 L376.6,139.0 L379.1,131" stroke="#9fc9e6" stroke-width="2" fill="none" stroke-linejoin="round"/>
<path d="M381.9,129 L383.9,139.0 L386.4,131" stroke="#9fc9e6" stroke-width="2" fill="none" stroke-linejoin="round"/>
<path d="M389.2,129 L391.2,139.0 L393.7,131" stroke="#9fc9e6" stroke-width="2" fill="none" stroke-linejoin="round"/>
<line x1="327.8" y1="128" x2="324.8" y2="137.5" stroke="#c6cedb" stroke-width="0.9"/>
<line x1="342.4" y1="128" x2="339.4" y2="137.5" stroke="#c6cedb" stroke-width="0.9"/>
<line x1="418.0" y1="128" x2="421.0" y2="137.5" stroke="#c6cedb" stroke-width="0.9"/>
<line x1="431.5" y1="128" x2="434.5" y2="137.5" stroke="#c6cedb" stroke-width="0.9"/>
<g clip-path="url(#c3)">
<line x1="327.9" y1="148.5" x2="267.0" y2="167.0" stroke="#9fc9e6" stroke-width="3.8" opacity="0.9"/>
<line x1="327.9" y1="148.5" x2="267.0" y2="167.0" stroke="#cfe6f6" stroke-width="2.2" stroke-dasharray="1.0 1.4" opacity="0.9"/>
<line x1="327.4" y1="146.7" x2="266.4" y2="165.2" stroke="#6a9bc4" stroke-width="0.9" stroke-dasharray="1.5 0.7" opacity="0.85"/>
<line x1="328.5" y1="150.3" x2="267.6" y2="168.8" stroke="#6a9bc4" stroke-width="0.9" stroke-dasharray="1.5 0.7" opacity="0.85"/>
<line x1="334.3" y1="148.5" x2="281.0" y2="167.0" stroke="#9fc9e6" stroke-width="3.8" opacity="0.9"/>
<line x1="334.3" y1="148.5" x2="281.0" y2="167.0" stroke="#cfe6f6" stroke-width="2.2" stroke-dasharray="1.0 1.4" opacity="0.9"/>
<line x1="333.7" y1="146.7" x2="280.4" y2="165.2" stroke="#6a9bc4" stroke-width="0.9" stroke-dasharray="1.5 0.7" opacity="0.85"/>
<line x1="334.9" y1="150.3" x2="281.6" y2="168.8" stroke="#6a9bc4" stroke-width="0.9" stroke-dasharray="1.5 0.7" opacity="0.85"/>
<line x1="340.7" y1="148.5" x2="295.0" y2="167.0" stroke="#9fc9e6" stroke-width="3.8" opacity="0.9"/>
<line x1="340.7" y1="148.5" x2="295.0" y2="167.0" stroke="#cfe6f6" stroke-width="2.2" stroke-dasharray="1.0 1.4" opacity="0.9"/>
<line x1="340.0" y1="146.7" x2="294.3" y2="165.2" stroke="#6a9bc4" stroke-width="0.9" stroke-dasharray="1.5 0.7" opacity="0.85"/>
<line x1="341.4" y1="150.3" x2="295.7" y2="168.8" stroke="#6a9bc4" stroke-width="0.9" stroke-dasharray="1.5 0.7" opacity="0.85"/>
<line x1="347.1" y1="148.5" x2="309.0" y2="167.0" stroke="#9fc9e6" stroke-width="3.8" opacity="0.9"/>
<line x1="347.1" y1="148.5" x2="309.0" y2="167.0" stroke="#cfe6f6" stroke-width="2.2" stroke-dasharray="1.0 1.4" opacity="0.9"/>
<line x1="346.3" y1="146.8" x2="308.2" y2="165.3" stroke="#6a9bc4" stroke-width="0.9" stroke-dasharray="1.5 0.7" opacity="0.85"/>
<line x1="347.9" y1="150.2" x2="309.8" y2="168.7" stroke="#6a9bc4" stroke-width="0.9" stroke-dasharray="1.5 0.7" opacity="0.85"/>
<line x1="353.5" y1="148.5" x2="323.0" y2="167.0" stroke="#9fc9e6" stroke-width="3.8" opacity="0.9"/>
<line x1="353.5" y1="148.5" x2="323.0" y2="167.0" stroke="#cfe6f6" stroke-width="2.2" stroke-dasharray="1.0 1.4" opacity="0.9"/>
<line x1="352.5" y1="146.9" x2="322.0" y2="165.4" stroke="#6a9bc4" stroke-width="0.9" stroke-dasharray="1.5 0.7" opacity="0.85"/>
<line x1="354.5" y1="150.1" x2="324.0" y2="168.6" stroke="#6a9bc4" stroke-width="0.9" stroke-dasharray="1.5 0.7" opacity="0.85"/>
<line x1="359.9" y1="148.5" x2="337.0" y2="167.0" stroke="#9fc9e6" stroke-width="3.8" opacity="0.9"/>
<line x1="359.9" y1="148.5" x2="337.0" y2="167.0" stroke="#cfe6f6" stroke-width="2.2" stroke-dasharray="1.0 1.4" opacity="0.9"/>
<line x1="358.7" y1="147.0" x2="335.8" y2="165.5" stroke="#6a9bc4" stroke-width="0.9" stroke-dasharray="1.5 0.7" opacity="0.85"/>
<line x1="361.0" y1="150.0" x2="338.2" y2="168.5" stroke="#6a9bc4" stroke-width="0.9" stroke-dasharray="1.5 0.7" opacity="0.85"/>
<line x1="366.2" y1="148.5" x2="351.0" y2="167.0" stroke="#9fc9e6" stroke-width="3.8" opacity="0.9"/>
<line x1="366.2" y1="148.5" x2="351.0" y2="167.0" stroke="#cfe6f6" stroke-width="2.2" stroke-dasharray="1.0 1.4" opacity="0.9"/>
<line x1="364.8" y1="147.3" x2="349.5" y2="165.8" stroke="#6a9bc4" stroke-width="0.9" stroke-dasharray="1.5 0.7" opacity="0.85"/>
<line x1="367.7" y1="149.7" x2="352.5" y2="168.2" stroke="#6a9bc4" stroke-width="0.9" stroke-dasharray="1.5 0.7" opacity="0.85"/>
<line x1="372.6" y1="148.5" x2="365.0" y2="167.0" stroke="#9fc9e6" stroke-width="3.8" opacity="0.9"/>
<line x1="372.6" y1="148.5" x2="365.0" y2="167.0" stroke="#cfe6f6" stroke-width="2.2" stroke-dasharray="1.0 1.4" opacity="0.9"/>
<line x1="370.9" y1="147.8" x2="363.2" y2="166.3" stroke="#6a9bc4" stroke-width="0.9" stroke-dasharray="1.5 0.7" opacity="0.85"/>
<line x1="374.4" y1="149.2" x2="366.8" y2="167.7" stroke="#6a9bc4" stroke-width="0.9" stroke-dasharray="1.5 0.7" opacity="0.85"/>
<line x1="385.4" y1="148.5" x2="393.0" y2="167.0" stroke="#9fc9e6" stroke-width="3.8" opacity="0.9"/>
<line x1="385.4" y1="148.5" x2="393.0" y2="167.0" stroke="#cfe6f6" stroke-width="2.2" stroke-dasharray="1.0 1.4" opacity="0.9"/>
<line x1="383.6" y1="149.2" x2="391.2" y2="167.7" stroke="#6a9bc4" stroke-width="0.9" stroke-dasharray="1.5 0.7" opacity="0.85"/>
<line x1="387.1" y1="147.8" x2="394.8" y2="166.3" stroke="#6a9bc4" stroke-width="0.9" stroke-dasharray="1.5 0.7" opacity="0.85"/>
<line x1="391.8" y1="148.5" x2="407.0" y2="167.0" stroke="#9fc9e6" stroke-width="3.8" opacity="0.9"/>
<line x1="391.8" y1="148.5" x2="407.0" y2="167.0" stroke="#cfe6f6" stroke-width="2.2" stroke-dasharray="1.0 1.4" opacity="0.9"/>
<line x1="390.3" y1="149.7" x2="405.5" y2="168.2" stroke="#6a9bc4" stroke-width="0.9" stroke-dasharray="1.5 0.7" opacity="0.85"/>
<line x1="393.2" y1="147.3" x2="408.5" y2="165.8" stroke="#6a9bc4" stroke-width="0.9" stroke-dasharray="1.5 0.7" opacity="0.85"/>
<line x1="398.1" y1="148.5" x2="421.0" y2="167.0" stroke="#9fc9e6" stroke-width="3.8" opacity="0.9"/>
<line x1="398.1" y1="148.5" x2="421.0" y2="167.0" stroke="#cfe6f6" stroke-width="2.2" stroke-dasharray="1.0 1.4" opacity="0.9"/>
<line x1="397.0" y1="150.0" x2="419.8" y2="168.5" stroke="#6a9bc4" stroke-width="0.9" stroke-dasharray="1.5 0.7" opacity="0.85"/>
<line x1="399.3" y1="147.0" x2="422.2" y2="165.5" stroke="#6a9bc4" stroke-width="0.9" stroke-dasharray="1.5 0.7" opacity="0.85"/>
<line x1="404.5" y1="148.5" x2="435.0" y2="167.0" stroke="#9fc9e6" stroke-width="3.8" opacity="0.9"/>
<line x1="404.5" y1="148.5" x2="435.0" y2="167.0" stroke="#cfe6f6" stroke-width="2.2" stroke-dasharray="1.0 1.4" opacity="0.9"/>
<line x1="403.5" y1="150.1" x2="434.0" y2="168.6" stroke="#6a9bc4" stroke-width="0.9" stroke-dasharray="1.5 0.7" opacity="0.85"/>
<line x1="405.5" y1="146.9" x2="436.0" y2="165.4" stroke="#6a9bc4" stroke-width="0.9" stroke-dasharray="1.5 0.7" opacity="0.85"/>
<line x1="410.9" y1="148.5" x2="449.0" y2="167.0" stroke="#9fc9e6" stroke-width="3.8" opacity="0.9"/>
<line x1="410.9" y1="148.5" x2="449.0" y2="167.0" stroke="#cfe6f6" stroke-width="2.2" stroke-dasharray="1.0 1.4" opacity="0.9"/>
<line x1="410.1" y1="150.2" x2="448.2" y2="168.7" stroke="#6a9bc4" stroke-width="0.9" stroke-dasharray="1.5 0.7" opacity="0.85"/>
<line x1="411.7" y1="146.8" x2="449.8" y2="165.3" stroke="#6a9bc4" stroke-width="0.9" stroke-dasharray="1.5 0.7" opacity="0.85"/>
<line x1="417.3" y1="148.5" x2="463.0" y2="167.0" stroke="#9fc9e6" stroke-width="3.8" opacity="0.9"/>
<line x1="417.3" y1="148.5" x2="463.0" y2="167.0" stroke="#cfe6f6" stroke-width="2.2" stroke-dasharray="1.0 1.4" opacity="0.9"/>
<line x1="416.6" y1="150.3" x2="462.3" y2="168.8" stroke="#6a9bc4" stroke-width="0.9" stroke-dasharray="1.5 0.7" opacity="0.85"/>
<line x1="418.0" y1="146.7" x2="463.7" y2="165.2" stroke="#6a9bc4" stroke-width="0.9" stroke-dasharray="1.5 0.7" opacity="0.85"/>
<line x1="423.7" y1="148.5" x2="477.0" y2="167.0" stroke="#9fc9e6" stroke-width="3.8" opacity="0.9"/>
<line x1="423.7" y1="148.5" x2="477.0" y2="167.0" stroke="#cfe6f6" stroke-width="2.2" stroke-dasharray="1.0 1.4" opacity="0.9"/>
<line x1="423.1" y1="150.3" x2="476.4" y2="168.8" stroke="#6a9bc4" stroke-width="0.9" stroke-dasharray="1.5 0.7" opacity="0.85"/>
<line x1="424.3" y1="146.7" x2="477.6" y2="165.2" stroke="#6a9bc4" stroke-width="0.9" stroke-dasharray="1.5 0.7" opacity="0.85"/>
<line x1="430.1" y1="148.5" x2="491.0" y2="167.0" stroke="#9fc9e6" stroke-width="3.8" opacity="0.9"/>
<line x1="430.1" y1="148.5" x2="491.0" y2="167.0" stroke="#cfe6f6" stroke-width="2.2" stroke-dasharray="1.0 1.4" opacity="0.9"/>
<line x1="429.5" y1="150.3" x2="490.4" y2="168.8" stroke="#6a9bc4" stroke-width="0.9" stroke-dasharray="1.5 0.7" opacity="0.85"/>
<line x1="430.6" y1="146.7" x2="491.6" y2="165.2" stroke="#6a9bc4" stroke-width="0.9" stroke-dasharray="1.5 0.7" opacity="0.85"/>
</g>
<g clip-path="url(#c3)">
<line x1="326.4" y1="171.0" x2="296.0" y2="193.0" stroke="#9fc9e6" stroke-width="4.2" opacity="0.9"/>
<line x1="326.4" y1="171.0" x2="296.0" y2="193.0" stroke="#cfe6f6" stroke-width="2.6" stroke-dasharray="1.0 1.4" opacity="0.9"/>
<line x1="325.2" y1="169.3" x2="294.8" y2="191.3" stroke="#6a9bc4" stroke-width="0.9" stroke-dasharray="1.5 0.7" opacity="0.85"/>
<line x1="327.7" y1="172.7" x2="297.2" y2="194.7" stroke="#6a9bc4" stroke-width="0.9" stroke-dasharray="1.5 0.7" opacity="0.85"/>
<line x1="334.5" y1="171.0" x2="308.8" y2="193.0" stroke="#9fc9e6" stroke-width="4.2" opacity="0.9"/>
<line x1="334.5" y1="171.0" x2="308.8" y2="193.0" stroke="#cfe6f6" stroke-width="2.6" stroke-dasharray="1.0 1.4" opacity="0.9"/>
<line x1="333.2" y1="169.4" x2="307.4" y2="191.4" stroke="#6a9bc4" stroke-width="0.9" stroke-dasharray="1.5 0.7" opacity="0.85"/>
<line x1="335.9" y1="172.6" x2="310.1" y2="194.6" stroke="#6a9bc4" stroke-width="0.9" stroke-dasharray="1.5 0.7" opacity="0.85"/>
<line x1="342.6" y1="171.0" x2="321.5" y2="193.0" stroke="#9fc9e6" stroke-width="4.2" opacity="0.9"/>
<line x1="342.6" y1="171.0" x2="321.5" y2="193.0" stroke="#cfe6f6" stroke-width="2.6" stroke-dasharray="1.0 1.4" opacity="0.9"/>
<line x1="341.1" y1="169.5" x2="320.0" y2="191.5" stroke="#6a9bc4" stroke-width="0.9" stroke-dasharray="1.5 0.7" opacity="0.85"/>
<line x1="344.1" y1="172.5" x2="323.1" y2="194.5" stroke="#6a9bc4" stroke-width="0.9" stroke-dasharray="1.5 0.7" opacity="0.85"/>
<line x1="350.7" y1="171.0" x2="334.3" y2="193.0" stroke="#9fc9e6" stroke-width="4.2" opacity="0.9"/>
<line x1="350.7" y1="171.0" x2="334.3" y2="193.0" stroke="#cfe6f6" stroke-width="2.6" stroke-dasharray="1.0 1.4" opacity="0.9"/>
<line x1="349.0" y1="169.7" x2="332.6" y2="191.7" stroke="#6a9bc4" stroke-width="0.9" stroke-dasharray="1.5 0.7" opacity="0.85"/>
<line x1="352.4" y1="172.3" x2="336.0" y2="194.3" stroke="#6a9bc4" stroke-width="0.9" stroke-dasharray="1.5 0.7" opacity="0.85"/>
<line x1="358.8" y1="171.0" x2="347.1" y2="193.0" stroke="#9fc9e6" stroke-width="4.2" opacity="0.9"/>
<line x1="358.8" y1="171.0" x2="347.1" y2="193.0" stroke="#cfe6f6" stroke-width="2.6" stroke-dasharray="1.0 1.4" opacity="0.9"/>
<line x1="356.9" y1="170.0" x2="345.2" y2="192.0" stroke="#6a9bc4" stroke-width="0.9" stroke-dasharray="1.5 0.7" opacity="0.85"/>
<line x1="360.6" y1="172.0" x2="348.9" y2="194.0" stroke="#6a9bc4" stroke-width="0.9" stroke-dasharray="1.5 0.7" opacity="0.85"/>
<line x1="366.9" y1="171.0" x2="359.8" y2="193.0" stroke="#9fc9e6" stroke-width="4.2" opacity="0.9"/>
<line x1="366.9" y1="171.0" x2="359.8" y2="193.0" stroke="#cfe6f6" stroke-width="2.6" stroke-dasharray="1.0 1.4" opacity="0.9"/>
<line x1="364.9" y1="170.4" x2="357.8" y2="192.4" stroke="#6a9bc4" stroke-width="0.9" stroke-dasharray="1.5 0.7" opacity="0.85"/>
<line x1="368.9" y1="171.6" x2="361.8" y2="193.6" stroke="#6a9bc4" stroke-width="0.9" stroke-dasharray="1.5 0.7" opacity="0.85"/>
<line x1="375.0" y1="171.0" x2="372.6" y2="193.0" stroke="#9fc9e6" stroke-width="4.2" opacity="0.9"/>
<line x1="375.0" y1="171.0" x2="372.6" y2="193.0" stroke="#cfe6f6" stroke-width="2.6" stroke-dasharray="1.0 1.4" opacity="0.9"/>
<line x1="372.9" y1="170.8" x2="370.5" y2="192.8" stroke="#6a9bc4" stroke-width="0.9" stroke-dasharray="1.5 0.7" opacity="0.85"/>
<line x1="377.0" y1="171.2" x2="374.7" y2="193.2" stroke="#6a9bc4" stroke-width="0.9" stroke-dasharray="1.5 0.7" opacity="0.85"/>
<line x1="383.0" y1="171.0" x2="385.4" y2="193.0" stroke="#9fc9e6" stroke-width="4.2" opacity="0.9"/>
<line x1="383.0" y1="171.0" x2="385.4" y2="193.0" stroke="#cfe6f6" stroke-width="2.6" stroke-dasharray="1.0 1.4" opacity="0.9"/>
<line x1="381.0" y1="171.2" x2="383.3" y2="193.2" stroke="#6a9bc4" stroke-width="0.9" stroke-dasharray="1.5 0.7" opacity="0.85"/>
<line x1="385.1" y1="170.8" x2="387.5" y2="192.8" stroke="#6a9bc4" stroke-width="0.9" stroke-dasharray="1.5 0.7" opacity="0.85"/>
<line x1="391.1" y1="171.0" x2="398.2" y2="193.0" stroke="#9fc9e6" stroke-width="4.2" opacity="0.9"/>
<line x1="391.1" y1="171.0" x2="398.2" y2="193.0" stroke="#cfe6f6" stroke-width="2.6" stroke-dasharray="1.0 1.4" opacity="0.9"/>
<line x1="389.1" y1="171.6" x2="396.2" y2="193.6" stroke="#6a9bc4" stroke-width="0.9" stroke-dasharray="1.5 0.7" opacity="0.85"/>
<line x1="393.1" y1="170.4" x2="400.2" y2="192.4" stroke="#6a9bc4" stroke-width="0.9" stroke-dasharray="1.5 0.7" opacity="0.85"/>
<line x1="399.2" y1="171.0" x2="410.9" y2="193.0" stroke="#9fc9e6" stroke-width="4.2" opacity="0.9"/>
<line x1="399.2" y1="171.0" x2="410.9" y2="193.0" stroke="#cfe6f6" stroke-width="2.6" stroke-dasharray="1.0 1.4" opacity="0.9"/>
<line x1="397.4" y1="172.0" x2="409.1" y2="194.0" stroke="#6a9bc4" stroke-width="0.9" stroke-dasharray="1.5 0.7" opacity="0.85"/>
<line x1="401.1" y1="170.0" x2="412.8" y2="192.0" stroke="#6a9bc4" stroke-width="0.9" stroke-dasharray="1.5 0.7" opacity="0.85"/>
<line x1="407.3" y1="171.0" x2="423.7" y2="193.0" stroke="#9fc9e6" stroke-width="4.2" opacity="0.9"/>
<line x1="407.3" y1="171.0" x2="423.7" y2="193.0" stroke="#cfe6f6" stroke-width="2.6" stroke-dasharray="1.0 1.4" opacity="0.9"/>
<line x1="405.6" y1="172.3" x2="422.0" y2="194.3" stroke="#6a9bc4" stroke-width="0.9" stroke-dasharray="1.5 0.7" opacity="0.85"/>
<line x1="409.0" y1="169.7" x2="425.4" y2="191.7" stroke="#6a9bc4" stroke-width="0.9" stroke-dasharray="1.5 0.7" opacity="0.85"/>
<line x1="415.4" y1="171.0" x2="436.5" y2="193.0" stroke="#9fc9e6" stroke-width="4.2" opacity="0.9"/>
<line x1="415.4" y1="171.0" x2="436.5" y2="193.0" stroke="#cfe6f6" stroke-width="2.6" stroke-dasharray="1.0 1.4" opacity="0.9"/>
<line x1="413.9" y1="172.5" x2="434.9" y2="194.5" stroke="#6a9bc4" stroke-width="0.9" stroke-dasharray="1.5 0.7" opacity="0.85"/>
<line x1="416.9" y1="169.5" x2="438.0" y2="191.5" stroke="#6a9bc4" stroke-width="0.9" stroke-dasharray="1.5 0.7" opacity="0.85"/>
<line x1="423.5" y1="171.0" x2="449.2" y2="193.0" stroke="#9fc9e6" stroke-width="4.2" opacity="0.9"/>
<line x1="423.5" y1="171.0" x2="449.2" y2="193.0" stroke="#cfe6f6" stroke-width="2.6" stroke-dasharray="1.0 1.4" opacity="0.9"/>
<line x1="422.1" y1="172.6" x2="447.9" y2="194.6" stroke="#6a9bc4" stroke-width="0.9" stroke-dasharray="1.5 0.7" opacity="0.85"/>
<line x1="424.8" y1="169.4" x2="450.6" y2="191.4" stroke="#6a9bc4" stroke-width="0.9" stroke-dasharray="1.5 0.7" opacity="0.85"/>
<line x1="431.6" y1="171.0" x2="462.0" y2="193.0" stroke="#9fc9e6" stroke-width="4.2" opacity="0.9"/>
<line x1="431.6" y1="171.0" x2="462.0" y2="193.0" stroke="#cfe6f6" stroke-width="2.6" stroke-dasharray="1.0 1.4" opacity="0.9"/>
<line x1="430.3" y1="172.7" x2="460.8" y2="194.7" stroke="#6a9bc4" stroke-width="0.9" stroke-dasharray="1.5 0.7" opacity="0.85"/>
<line x1="432.8" y1="169.3" x2="463.2" y2="191.3" stroke="#6a9bc4" stroke-width="0.9" stroke-dasharray="1.5 0.7" opacity="0.85"/>
</g>
<g clip-path="url(#c3)">
<line x1="333.2" y1="198.0" x2="317.0" y2="221.0" stroke="#9fc9e6" stroke-width="4.4" opacity="0.9"/>
<line x1="333.2" y1="198.0" x2="317.0" y2="221.0" stroke="#cfe6f6" stroke-width="2.8" stroke-dasharray="1.0 1.4" opacity="0.9"/>
<line x1="331.4" y1="196.7" x2="315.2" y2="219.7" stroke="#6a9bc4" stroke-width="0.9" stroke-dasharray="1.5 0.7" opacity="0.85"/>
<line x1="335.0" y1="199.3" x2="318.8" y2="222.3" stroke="#6a9bc4" stroke-width="0.9" stroke-dasharray="1.5 0.7" opacity="0.85"/>
<line x1="340.8" y1="198.0" x2="327.3" y2="221.0" stroke="#9fc9e6" stroke-width="4.4" opacity="0.9"/>
<line x1="340.8" y1="198.0" x2="327.3" y2="221.0" stroke="#cfe6f6" stroke-width="2.8" stroke-dasharray="1.0 1.4" opacity="0.9"/>
<line x1="338.9" y1="196.9" x2="325.4" y2="219.9" stroke="#6a9bc4" stroke-width="0.9" stroke-dasharray="1.5 0.7" opacity="0.85"/>
<line x1="342.7" y1="199.1" x2="329.2" y2="222.1" stroke="#6a9bc4" stroke-width="0.9" stroke-dasharray="1.5 0.7" opacity="0.85"/>
<line x1="348.5" y1="198.0" x2="337.7" y2="221.0" stroke="#9fc9e6" stroke-width="4.4" opacity="0.9"/>
<line x1="348.5" y1="198.0" x2="337.7" y2="221.0" stroke="#cfe6f6" stroke-width="2.8" stroke-dasharray="1.0 1.4" opacity="0.9"/>
<line x1="346.5" y1="197.1" x2="335.7" y2="220.1" stroke="#6a9bc4" stroke-width="0.9" stroke-dasharray="1.5 0.7" opacity="0.85"/>
<line x1="350.5" y1="198.9" x2="339.7" y2="221.9" stroke="#6a9bc4" stroke-width="0.9" stroke-dasharray="1.5 0.7" opacity="0.85"/>
<line x1="356.1" y1="198.0" x2="348.0" y2="221.0" stroke="#9fc9e6" stroke-width="4.4" opacity="0.9"/>
<line x1="356.1" y1="198.0" x2="348.0" y2="221.0" stroke="#cfe6f6" stroke-width="2.8" stroke-dasharray="1.0 1.4" opacity="0.9"/>
<line x1="354.0" y1="197.3" x2="345.9" y2="220.3" stroke="#6a9bc4" stroke-width="0.9" stroke-dasharray="1.5 0.7" opacity="0.85"/>
<line x1="358.2" y1="198.7" x2="350.1" y2="221.7" stroke="#6a9bc4" stroke-width="0.9" stroke-dasharray="1.5 0.7" opacity="0.85"/>
<line x1="363.7" y1="198.0" x2="358.3" y2="221.0" stroke="#9fc9e6" stroke-width="4.4" opacity="0.9"/>
<line x1="363.7" y1="198.0" x2="358.3" y2="221.0" stroke="#cfe6f6" stroke-width="2.8" stroke-dasharray="1.0 1.4" opacity="0.9"/>
<line x1="361.6" y1="197.5" x2="356.2" y2="220.5" stroke="#6a9bc4" stroke-width="0.9" stroke-dasharray="1.5 0.7" opacity="0.85"/>
<line x1="365.9" y1="198.5" x2="360.5" y2="221.5" stroke="#6a9bc4" stroke-width="0.9" stroke-dasharray="1.5 0.7" opacity="0.85"/>
<line x1="371.4" y1="198.0" x2="368.7" y2="221.0" stroke="#9fc9e6" stroke-width="4.4" opacity="0.9"/>
<line x1="371.4" y1="198.0" x2="368.7" y2="221.0" stroke="#cfe6f6" stroke-width="2.8" stroke-dasharray="1.0 1.4" opacity="0.9"/>
<line x1="369.2" y1="197.7" x2="366.5" y2="220.7" stroke="#6a9bc4" stroke-width="0.9" stroke-dasharray="1.5 0.7" opacity="0.85"/>
<line x1="373.6" y1="198.3" x2="370.9" y2="221.3" stroke="#6a9bc4" stroke-width="0.9" stroke-dasharray="1.5 0.7" opacity="0.85"/>
<line x1="386.6" y1="198.0" x2="389.3" y2="221.0" stroke="#9fc9e6" stroke-width="4.4" opacity="0.9"/>
<line x1="386.6" y1="198.0" x2="389.3" y2="221.0" stroke="#cfe6f6" stroke-width="2.8" stroke-dasharray="1.0 1.4" opacity="0.9"/>
<line x1="384.4" y1="198.3" x2="387.1" y2="221.3" stroke="#6a9bc4" stroke-width="0.9" stroke-dasharray="1.5 0.7" opacity="0.85"/>
<line x1="388.8" y1="197.7" x2="391.5" y2="220.7" stroke="#6a9bc4" stroke-width="0.9" stroke-dasharray="1.5 0.7" opacity="0.85"/>
<line x1="394.3" y1="198.0" x2="399.7" y2="221.0" stroke="#9fc9e6" stroke-width="4.4" opacity="0.9"/>
<line x1="394.3" y1="198.0" x2="399.7" y2="221.0" stroke="#cfe6f6" stroke-width="2.8" stroke-dasharray="1.0 1.4" opacity="0.9"/>
<line x1="392.1" y1="198.5" x2="397.5" y2="221.5" stroke="#6a9bc4" stroke-width="0.9" stroke-dasharray="1.5 0.7" opacity="0.85"/>
<line x1="396.4" y1="197.5" x2="401.8" y2="220.5" stroke="#6a9bc4" stroke-width="0.9" stroke-dasharray="1.5 0.7" opacity="0.85"/>
<line x1="401.9" y1="198.0" x2="410.0" y2="221.0" stroke="#9fc9e6" stroke-width="4.4" opacity="0.9"/>
<line x1="401.9" y1="198.0" x2="410.0" y2="221.0" stroke="#cfe6f6" stroke-width="2.8" stroke-dasharray="1.0 1.4" opacity="0.9"/>
<line x1="399.8" y1="198.7" x2="407.9" y2="221.7" stroke="#6a9bc4" stroke-width="0.9" stroke-dasharray="1.5 0.7" opacity="0.85"/>
<line x1="404.0" y1="197.3" x2="412.1" y2="220.3" stroke="#6a9bc4" stroke-width="0.9" stroke-dasharray="1.5 0.7" opacity="0.85"/>
<line x1="409.5" y1="198.0" x2="420.3" y2="221.0" stroke="#9fc9e6" stroke-width="4.4" opacity="0.9"/>
<line x1="409.5" y1="198.0" x2="420.3" y2="221.0" stroke="#cfe6f6" stroke-width="2.8" stroke-dasharray="1.0 1.4" opacity="0.9"/>
<line x1="407.5" y1="198.9" x2="418.3" y2="221.9" stroke="#6a9bc4" stroke-width="0.9" stroke-dasharray="1.5 0.7" opacity="0.85"/>
<line x1="411.5" y1="197.1" x2="422.3" y2="220.1" stroke="#6a9bc4" stroke-width="0.9" stroke-dasharray="1.5 0.7" opacity="0.85"/>
<line x1="417.2" y1="198.0" x2="430.7" y2="221.0" stroke="#9fc9e6" stroke-width="4.4" opacity="0.9"/>
<line x1="417.2" y1="198.0" x2="430.7" y2="221.0" stroke="#cfe6f6" stroke-width="2.8" stroke-dasharray="1.0 1.4" opacity="0.9"/>
<line x1="415.3" y1="199.1" x2="428.8" y2="222.1" stroke="#6a9bc4" stroke-width="0.9" stroke-dasharray="1.5 0.7" opacity="0.85"/>
<line x1="419.1" y1="196.9" x2="432.6" y2="219.9" stroke="#6a9bc4" stroke-width="0.9" stroke-dasharray="1.5 0.7" opacity="0.85"/>
<line x1="424.8" y1="198.0" x2="441.0" y2="221.0" stroke="#9fc9e6" stroke-width="4.4" opacity="0.9"/>
<line x1="424.8" y1="198.0" x2="441.0" y2="221.0" stroke="#cfe6f6" stroke-width="2.8" stroke-dasharray="1.0 1.4" opacity="0.9"/>
<line x1="423.0" y1="199.3" x2="439.2" y2="222.3" stroke="#6a9bc4" stroke-width="0.9" stroke-dasharray="1.5 0.7" opacity="0.85"/>
<line x1="426.6" y1="196.7" x2="442.8" y2="219.7" stroke="#6a9bc4" stroke-width="0.9" stroke-dasharray="1.5 0.7" opacity="0.85"/>
</g>
</g>
<g filter="url(#b0)">
<rect x="20.5" y="101.5" width="26.5" height="64.5" rx="13.25" ry="19.1" fill="url(#gE)" opacity="0.93" filter="url(#b1)"/>
<rect x="71" y="100.5" width="24" height="26.5" rx="12.0" ry="13.25" fill="#ea6288" opacity="0.92" filter="url(#b2)"/>
<rect x="71" y="140" width="24.5" height="26" rx="12.25" ry="13.0" fill="#f3b482" opacity="0.92" filter="url(#b2)"/>
<path d="M33.0,100.5 C31.8,101.1 28.0,101.9 26.0,104.0 C24.0,106.1 22.2,109.0 21.0,113.0 C19.8,117.0 19.2,123.2 19.0,128.0 C18.8,132.8 19.0,137.5 19.5,142.0 C20.0,146.5 20.8,151.4 22.0,155.0 C23.2,158.6 25.2,161.5 27.0,163.5 C28.8,165.5 32.0,166.4 33.0,167.0" fill="none" stroke="#17174e" stroke-width="1.9" stroke-dasharray="6.4 4.8" stroke-dashoffset="0"/>
<path d="M33.0,100.5 C34.5,100.8 38.8,101.9 42.0,102.5 C45.2,103.1 48.7,103.9 52.0,104.0 C55.3,104.1 59.0,103.7 62.0,103.0 C65.0,102.3 67.2,100.9 70.0,100.0 C72.8,99.1 76.0,97.8 79.0,97.5 C82.0,97.2 85.5,97.6 88.0,98.5 C90.5,99.4 92.6,100.9 94.0,103.0 C95.4,105.1 96.3,108.2 96.5,111.0 C96.7,113.8 96.1,117.5 95.0,120.0 C93.9,122.5 92.2,124.5 90.0,126.0 C87.8,127.5 84.7,128.2 82.0,129.0 C79.3,129.8 76.7,130.1 74.0,131.0 C71.3,131.9 68.7,132.8 66.0,134.5 C63.3,136.2 60.3,138.6 58.0,141.0 C55.7,143.4 53.7,146.3 52.0,149.0 C50.3,151.7 49.3,154.7 48.0,157.0 C46.7,159.3 45.7,161.4 44.0,163.0 C42.3,164.6 39.8,165.8 38.0,166.5 C36.2,167.2 33.8,166.9 33.0,167.0" fill="none" stroke="url(#r1)" stroke-width="1.6" stroke-dasharray="6 4.5" stroke-dashoffset="0"/>
<path d="M40.0,102.0 C41.0,103.0 44.3,105.7 46.0,108.0 C47.7,110.3 48.5,113.5 50.0,116.0 C51.5,118.5 53.2,120.8 55.0,123.0 C56.8,125.2 59.0,127.3 61.0,129.0 C63.0,130.7 66.0,132.3 67.0,133.0" fill="none" stroke="url(#r1)" stroke-width="1.6" stroke-dasharray="6 4.5" stroke-dashoffset="0"/>
<path d="M73.0,136.0 C74.2,136.2 77.5,137.1 80.0,137.5 C82.5,137.9 85.7,137.8 88.0,138.5 C90.3,139.2 92.4,140.1 94.0,142.0 C95.6,143.9 97.2,147.2 97.5,150.0 C97.8,152.8 97.2,156.5 96.0,159.0 C94.8,161.5 92.3,163.6 90.0,165.0 C87.7,166.4 84.7,167.3 82.0,167.5 C79.3,167.7 76.7,166.8 74.0,166.0 C71.3,165.2 69.0,163.7 66.0,163.0 C63.0,162.3 59.3,161.9 56.0,162.0 C52.7,162.1 47.7,163.2 46.0,163.5" fill="none" stroke="#d98236" stroke-width="1.6" stroke-dasharray="6 4.5" stroke-dashoffset="0"/>
<line x1="95" y1="113.8" x2="127.5" y2="113.8" stroke="#121212" stroke-width="1.5" stroke-dasharray="4.6 3.4"/>
<line x1="48" y1="133.2" x2="127.5" y2="133.2" stroke="#121212" stroke-width="1.5" stroke-dasharray="4.6 3.4"/>
<line x1="95" y1="153.3" x2="127.5" y2="153.3" stroke="#121212" stroke-width="1.5" stroke-dasharray="4.6 3.4"/>
<line x1="120.2" y1="132.2" x2="120.2" y2="119" stroke="#e0668c" stroke-width="1.5"/>
<path d="M120.2,115 L117.7,120.2 L122.7,120.2 Z" fill="#e0668c"/>
<line x1="120.2" y1="134.2" x2="120.2" y2="148.2" stroke="#5c6690" stroke-width="1.5"/>
<path d="M120.2,152.2 L117.7,147.0 L122.7,147.0 Z" fill="#5c6690"/>
<path d="M29.499999999999996,132.8 H38.099999999999994" stroke="#fff" stroke-width="2.3" fill="none"/>
<path d="M79.0,113.2 H86.6 M82.8,109.4 V117.0" stroke="#fff" stroke-width="2.0" fill="none"/>
<path d="M79.0,152.8 H86.6 M82.8,149.0 V156.60000000000002" stroke="#fff" stroke-width="2.0" fill="none"/>
<rect x="175" y="54" width="28" height="148.5" rx="14.0" ry="20.2" fill="url(#gE)" opacity="0.93" filter="url(#b1)"/>
<rect x="232" y="58.5" width="27.5" height="50.5" rx="13.75" ry="17.05" fill="#ea6288" opacity="0.76" filter="url(#b2)"/>
<rect x="232" y="122.5" width="27.5" height="75.5" rx="13.75" ry="17.05" fill="#f3b482" opacity="0.76" filter="url(#b2)"/>
<path d="M188.0,52.0 C186.8,52.6 183.0,53.7 181.0,55.5 C179.0,57.3 177.2,59.8 176.0,63.0 C174.8,66.2 174.1,69.7 173.5,75.0 C172.9,80.3 172.8,87.5 172.5,95.0 C172.2,102.5 172.0,110.8 172.0,120.0 C172.0,129.2 172.2,140.3 172.5,150.0 C172.8,159.7 172.9,171.0 173.5,178.0 C174.1,185.0 174.8,188.3 176.0,192.0 C177.2,195.7 179.2,198.1 181.0,200.0 C182.8,201.9 185.2,202.8 187.0,203.5 C188.8,204.2 191.2,203.9 192.0,204.0" fill="none" stroke="#17174e" stroke-width="1.9" stroke-dasharray="6.4 4.8" stroke-dashoffset="0"/>
<path d="M188.0,52.0 C189.2,52.2 191.9,52.8 195.0,53.5 C198.1,54.2 202.2,55.8 206.3,56.5 C210.4,57.2 215.4,57.9 219.5,57.8 C223.6,57.7 227.3,56.6 230.7,56.0 C234.1,55.4 237.0,54.2 240.1,54.0 C243.2,53.8 246.7,53.7 249.5,55.0 C252.3,56.3 255.1,59.1 257.0,61.6 C258.9,64.1 260.1,65.8 260.8,70.0 C261.5,74.2 261.5,81.7 261.3,87.0 C261.1,92.3 260.8,98.6 259.8,102.0 C258.8,105.4 257.4,106.1 255.1,107.6 C252.8,109.1 248.8,110.1 245.7,111.0 C242.6,111.9 239.2,111.6 236.4,113.2 C233.6,114.8 231.0,118.2 228.8,120.7 C226.6,123.2 225.2,125.4 223.2,128.2 C221.2,131.0 218.8,133.6 216.6,137.6 C214.4,141.6 211.9,146.6 210.0,152.0 C208.1,157.4 206.5,164.0 205.0,170.0 C203.5,176.0 202.3,183.0 201.0,188.0 C199.7,193.0 198.5,197.3 197.0,200.0 C195.5,202.7 192.8,203.3 192.0,204.0" fill="none" stroke="url(#r2)" stroke-width="1.6" stroke-dasharray="6 4.5" stroke-dashoffset="0"/>
<path d="M196.0,54.0 C196.8,55.1 199.4,57.3 200.7,60.6 C201.9,63.9 202.6,69.7 203.5,73.8 C204.4,77.9 205.1,80.6 206.3,85.0 C207.6,89.4 209.1,95.3 211.0,100.0 C212.9,104.7 216.5,111.0 217.6,113.2" fill="none" stroke="url(#r2)" stroke-width="1.6" stroke-dasharray="6 4.5" stroke-dashoffset="0"/>
<path d="M217.6,113.2 C218.8,114.5 222.9,119.0 225.1,120.7 C227.3,122.4 228.5,123.5 230.7,123.5 C232.9,123.5 235.4,121.5 238.2,120.7 C241.0,119.9 244.9,118.6 247.6,118.8 C250.3,119.0 252.4,120.3 254.2,121.7 C256.0,123.1 257.4,124.0 258.5,127.0 C259.6,130.1 260.6,131.2 261.0,140.0 C261.4,148.8 261.3,171.0 261.0,180.0 C260.7,189.0 260.3,190.5 259.0,194.0 C257.7,197.5 255.5,199.5 253.0,201.0 C250.5,202.5 247.5,202.9 244.0,203.0 C240.5,203.1 236.0,202.0 232.0,201.5 C228.0,201.0 224.0,200.0 220.0,200.0 C216.0,200.0 211.7,200.8 208.0,201.5 C204.3,202.2 199.7,203.6 198.0,204.0" fill="none" stroke="#d98236" stroke-width="1.6" stroke-dasharray="6 4.5" stroke-dashoffset="0"/>
<line x1="262.6" y1="85" x2="293" y2="85" stroke="#121212" stroke-width="1.5" stroke-dasharray="4.6 3.4"/>
<line x1="201.6" y1="133.1" x2="293" y2="133.1" stroke="#121212" stroke-width="1.5" stroke-dasharray="4.6 3.4"/>
<line x1="262.6" y1="160" x2="293" y2="160" stroke="#121212" stroke-width="1.5" stroke-dasharray="4.6 3.4"/>
<line x1="284.8" y1="132.1" x2="284.8" y2="90.5" stroke="#e0668c" stroke-width="1.5"/>
<path d="M284.8,86.5 L282.3,91.7 L287.3,91.7 Z" fill="#e0668c"/>
<line x1="284.8" y1="134.1" x2="284.8" y2="155" stroke="#5c6690" stroke-width="1.5"/>
<path d="M284.8,159 L282.3,153.8 L287.3,153.8 Z" fill="#5c6690"/>
<path d="M182.7,133 H191.3" stroke="#fff" stroke-width="2.3" fill="none"/>
<path d="M241.7,84.5 H249.3 M245.5,80.7 V88.3" stroke="#fff" stroke-width="2.0" fill="none"/>
<path d="M241.7,160 H249.3 M245.5,156.2 V163.8" stroke="#fff" stroke-width="2.0" fill="none"/>
<rect x="333.5" y="33" width="33.5" height="190" rx="16.75" ry="24.1" fill="url(#gE)" opacity="0.93" filter="url(#b1)"/>
<rect x="393" y="34" width="26" height="76.5" rx="13.0" ry="16.12" fill="#ea6288" opacity="0.76" filter="url(#b2)"/>
<rect x="392.5" y="122" width="26.5" height="102.5" rx="13.25" ry="16.43" fill="#f3b482" opacity="0.76" filter="url(#b2)"/>
<path d="M348.5,32.8 C347.2,33.4 343.0,34.5 341.0,36.5 C339.0,38.5 337.7,41.1 336.5,45.0 C335.3,48.9 334.6,53.2 334.0,60.0 C333.4,66.8 333.4,76.1 333.2,85.7 C333.0,95.3 332.9,106.9 332.9,117.6 C332.9,128.3 332.9,138.8 333.0,150.0 C333.1,161.2 333.2,176.2 333.5,185.0 C333.8,193.8 334.2,198.2 335.0,203.0 C335.8,207.8 337.1,211.0 338.5,214.0 C339.9,217.0 341.7,219.4 343.5,221.0 C345.3,222.6 348.5,223.3 349.5,223.8" fill="none" stroke="#17174e" stroke-width="1.9" stroke-dasharray="6.4 4.8" stroke-dashoffset="0"/>
<path d="M348.5,32.8 C350.2,33.5 355.2,35.9 358.8,36.9 C362.4,37.9 365.6,38.5 370.0,38.8 C374.4,39.1 380.9,39.1 385.0,38.8 C389.1,38.5 391.4,37.6 394.5,36.9 C397.6,36.2 400.9,34.5 403.9,34.6 C406.9,34.8 409.9,35.5 412.3,37.8 C414.7,40.1 416.8,43.4 418.0,48.2 C419.2,53.1 419.5,59.1 419.8,66.9 C420.1,74.7 420.3,88.7 419.8,95.0 C419.3,101.3 418.7,101.8 417.0,104.5 C415.3,107.2 412.3,109.6 409.5,111.0 C406.7,112.4 402.9,111.6 400.1,113.0 C397.3,114.4 394.9,117.9 392.6,119.5 C390.3,121.1 388.9,118.8 386.4,122.7 C383.9,126.6 380.1,136.7 377.5,143.1 C374.9,149.5 372.8,154.6 371.1,161.0 C369.4,167.4 368.4,174.5 367.3,181.3 C366.2,188.1 365.6,196.2 364.7,201.7 C363.8,207.2 363.2,211.2 362.2,214.4 C361.1,217.6 360.3,219.2 358.4,220.8 C356.5,222.4 352.0,223.3 350.7,223.8" fill="none" stroke="url(#r3)" stroke-width="1.6" stroke-dasharray="6 4.5" stroke-dashoffset="0"/>
<path d="M360.7,38.8 C361.3,41.9 363.1,51.2 364.4,57.5 C365.6,63.8 367.1,70.7 368.2,76.3 C369.3,81.9 369.9,86.6 371.0,91.3 C372.1,96.0 374.2,102.3 374.8,104.5" fill="none" stroke="url(#r3)" stroke-width="1.6" stroke-dasharray="6 4.5" stroke-dashoffset="0"/>
<path d="M374.8,104.5 C375.9,106.1 379.0,111.2 381.3,113.9 C383.6,116.6 386.7,118.7 388.8,120.4 C390.9,122.1 391.6,124.1 394.0,124.0 C396.4,123.9 400.0,119.7 403.0,119.7 C406.0,119.7 409.4,121.4 411.9,124.0 C414.4,126.6 416.8,129.3 418.2,135.5 C419.6,141.7 419.7,150.4 420.0,161.0 C420.3,171.6 420.3,190.5 420.0,199.0 C419.7,207.5 419.1,208.1 418.2,211.9 C417.3,215.7 416.1,219.7 414.4,222.0 C412.7,224.3 410.6,225.7 408.0,225.9 C405.4,226.1 401.9,224.4 399.1,223.3 C396.4,222.2 394.5,220.2 391.5,219.5 C388.5,218.8 384.3,219.1 381.3,219.0 C378.3,218.9 376.5,219.1 373.7,219.0 C370.9,218.9 366.2,218.3 364.7,218.2" fill="none" stroke="#d98236" stroke-width="1.6" stroke-dasharray="6 4.5" stroke-dashoffset="0"/>
<line x1="421.5" y1="71" x2="449.5" y2="71" stroke="#121212" stroke-width="1.5" stroke-dasharray="4.6 3.4"/>
<line x1="367.3" y1="132.9" x2="449.5" y2="132.9" stroke="#121212" stroke-width="1.5" stroke-dasharray="4.6 3.4"/>
<line x1="421" y1="175.4" x2="449.5" y2="175.4" stroke="#121212" stroke-width="1.5" stroke-dasharray="4.6 3.4"/>
<line x1="443.8" y1="131.9" x2="443.8" y2="77" stroke="#e0668c" stroke-width="1.5"/>
<path d="M443.8,73 L441.3,78.2 L446.3,78.2 Z" fill="#e0668c"/>
<line x1="443.8" y1="133.9" x2="443.8" y2="170" stroke="#5c6690" stroke-width="1.5"/>
<path d="M443.8,174 L441.3,168.8 L446.3,168.8 Z" fill="#5c6690"/>
<path d="M344.7,132.8 H353.3" stroke="#fff" stroke-width="2.3" fill="none"/>
<path d="M401.7,71.5 H409.3 M405.5,67.7 V75.3" stroke="#fff" stroke-width="2.0" fill="none"/>
<path d="M401.7,174 H409.3 M405.5,170.2 V177.8" stroke="#fff" stroke-width="2.0" fill="none"/>
</g>
<text x="49.6" y="199.7" font-size="13" text-anchor="start" fill="#1c1a1b"  stroke="#1c1a1b">1+1 L</text>
<text x="202.5" y="227.5" font-size="13" text-anchor="start" fill="#1c1a1b"  stroke="#1c1a1b">2+3 L</text>
<text x="365.5" y="243.5" font-size="13" text-anchor="start" fill="#1c1a1b"  stroke="#1c1a1b">3+4 L</text>
<text x="125.4" y="126.4" font-size="12" text-anchor="start" fill="#1c1a1b"  stroke="#1c1a1b">0.5 L</text>
<text x="125.4" y="149.7" font-size="12" text-anchor="start" fill="#1c1a1b"  stroke="#1c1a1b">0.5 L</text>
<text x="287.1" y="112.9" font-size="12.2" text-anchor="start" fill="#1c1a1b"  stroke="#1c1a1b">1.5 L</text>
<text x="291.8" y="150.5" font-size="12.2" text-anchor="start" fill="#1c1a1b"  stroke="#1c1a1b">1 L</text>
<text x="450.5" y="111.2" font-size="12" text-anchor="start" fill="#1c1a1b"  stroke="#1c1a1b">2 L</text>
<text x="450.8" y="165.2" font-size="12" text-anchor="start" fill="#1c1a1b"  stroke="#1c1a1b">1.5 L</text>
</g>
<g id="panelB">
<text x="487.5" y="38.6" font-size="19.5" text-anchor="start" fill="#1c1a1b"  stroke="#1c1a1b">B</text>
<path d="M554.3,161.5 C571.6,168.9 622.8,190.7 658.0,206.0 C693.2,221.3 747.6,245.5 765.5,253.4" fill="none" stroke="#f2bb9c" stroke-width="1.8" stroke-linecap="round"/>
<path d="M551.0,252.9 C568.8,245.1 622.8,221.2 658.0,206.0 C693.2,190.8 744.9,168.8 762.3,161.4" fill="none" stroke="#b5bbd0" stroke-width="1.8" stroke-linecap="round"/>
<path d="M543.0,317.6 C547.5,313.2 560.5,300.4 570.0,291.2 C579.5,282.0 590.0,271.9 600.0,262.2 C610.0,252.5 622.0,240.9 630.0,233.1 C638.0,225.3 643.3,220.1 648.0,215.6 C652.7,211.1 654.3,209.2 658.0,206.0 C661.7,202.8 665.8,199.6 670.0,196.3 C674.2,193.0 676.7,191.0 683.0,186.3 C689.3,181.6 699.7,173.8 708.0,167.9 C716.3,162.0 724.6,156.3 733.0,150.8 C741.4,145.3 754.1,137.5 758.3,134.8" fill="none" stroke="#9aa6d2" stroke-width="1.8" stroke-linecap="round"/>
<path d="M559.1,85.9 C567.6,96.0 593.5,126.5 610.0,146.5 C626.5,166.5 643.0,187.2 658.0,206.0 C673.0,224.8 687.0,241.8 700.0,259.0 C713.0,276.2 723.5,292.2 736.1,309.3 C748.7,326.4 768.9,353.0 775.4,361.7" fill="none" stroke="#ee9a78" stroke-width="1.9" stroke-linecap="round"/>
<path d="M540.0,374.2 C546.7,364.4 566.8,334.5 580.0,315.5 C593.2,296.5 606.0,278.2 619.0,260.0 C632.0,241.8 648.8,218.0 658.0,206.0 C667.2,194.0 669.1,194.3 674.3,188.0 C679.5,181.7 684.0,174.7 689.3,168.3 C694.6,161.9 701.0,154.8 706.2,149.6 C711.4,144.4 715.3,141.5 720.6,137.4 C725.9,133.3 732.1,128.7 738.0,125.3 C743.9,121.9 752.8,118.2 755.8,116.8" fill="none" stroke="#2f5878" stroke-width="2.0" stroke-linecap="round"/>
<path d="M537.5,459.0 C543.0,448.8 559.5,419.5 570.2,398.0 C581.0,376.5 591.4,353.0 602.0,330.0 C612.6,307.0 624.8,280.7 634.1,260.0 C643.4,239.3 652.2,218.6 658.0,206.0 C663.8,193.4 663.3,194.7 668.7,184.2 C674.1,173.7 684.6,153.2 690.2,143.0 C695.8,132.8 698.0,130.2 702.4,123.0 C706.8,115.8 712.8,105.6 716.5,100.0 C720.2,94.4 721.3,93.1 724.9,89.3 C728.5,85.5 733.7,80.5 738.0,77.1 C742.3,73.7 748.6,70.3 750.7,69.0" fill="none" stroke="#34343f" stroke-width="2.0" stroke-linecap="round"/>
<path d="M561.9,126.1 C563.4,126.1 568.0,126.0 571.0,126.2 C574.0,126.4 576.0,126.3 580.0,127.2 C584.0,128.1 590.6,129.4 595.1,131.6 C599.6,133.8 602.9,137.0 607.2,140.6 C611.5,144.2 616.5,148.8 620.8,153.4 C625.1,158.0 628.8,163.1 632.8,168.3 C636.8,173.6 640.7,178.6 644.9,184.9 C649.1,191.2 652.1,195.3 658.0,206.0 C663.9,216.7 672.8,235.0 680.0,249.0 C687.2,263.0 693.5,274.7 701.5,290.0 C709.5,305.3 719.0,323.8 728.0,341.0 C737.0,358.2 744.1,372.6 755.8,393.0 C767.5,413.4 791.0,451.6 798.0,463.3" fill="none" stroke="#8e1a22" stroke-width="2.2" stroke-linecap="round"/>
<path d="M564.3,64.3 C566.9,67.5 575.0,76.9 580.2,83.2 C585.4,89.5 591.0,96.4 595.3,102.3 C599.5,108.2 601.8,112.3 605.7,118.5 C609.6,124.7 614.2,132.6 618.5,139.4 C622.8,146.2 627.1,152.6 631.3,159.4 C635.4,166.2 638.9,172.6 643.4,180.4 C647.9,188.2 651.6,194.6 658.0,206.0 C664.4,217.4 674.1,235.0 682.0,249.0 C689.9,263.0 696.2,274.6 705.2,290.0 C714.2,305.4 725.7,324.3 736.0,341.5 C746.3,358.7 757.6,378.0 767.0,393.0 C776.4,408.0 788.1,425.1 792.3,431.5" fill="none" stroke="#cf2414" stroke-width="2.2" stroke-linecap="round"/>
<circle cx="725" cy="95.7" r="4.7" fill="url(#sD)"/>
<circle cx="723.5" cy="94.10000000000001" r="1.35" fill="#fff" opacity="0.85"/>
<circle cx="711.4" cy="116.8" r="4.7" fill="url(#sD)"/>
<circle cx="709.9" cy="115.2" r="1.35" fill="#fff" opacity="0.85"/>
<circle cx="698.4" cy="135.2" r="4.7" fill="url(#sD)"/>
<circle cx="696.9" cy="133.6" r="1.35" fill="#fff" opacity="0.85"/>
<circle cx="684.8" cy="153.4" r="4.7" fill="url(#sD)"/>
<circle cx="683.3" cy="151.8" r="1.35" fill="#fff" opacity="0.85"/>
<circle cx="671.4" cy="182.2" r="4.7" fill="url(#sD)"/>
<circle cx="669.9" cy="180.6" r="1.35" fill="#fff" opacity="0.85"/>
<circle cx="644.2" cy="235.8" r="4.7" fill="url(#sD)"/>
<circle cx="642.7" cy="234.20000000000002" r="1.35" fill="#fff" opacity="0.85"/>
<circle cx="631.1" cy="253.1" r="4.7" fill="url(#sD)"/>
<circle cx="629.6" cy="251.5" r="1.35" fill="#fff" opacity="0.85"/>
<circle cx="617.8" cy="285.8" r="4.7" fill="url(#sD)"/>
<circle cx="616.3" cy="284.2" r="1.35" fill="#fff" opacity="0.85"/>
<circle cx="604.5" cy="297.1" r="4.7" fill="url(#sD)"/>
<circle cx="603.0" cy="295.5" r="1.35" fill="#fff" opacity="0.85"/>
<circle cx="591.2" cy="320.7" r="4.7" fill="url(#sD)"/>
<circle cx="589.7" cy="319.09999999999997" r="1.35" fill="#fff" opacity="0.85"/>
<circle cx="736.1" cy="120" r="4.7" fill="url(#sB)"/>
<circle cx="734.6" cy="118.4" r="1.35" fill="#fff" opacity="0.85"/>
<circle cx="720.6" cy="137.4" r="4.7" fill="url(#sB)"/>
<circle cx="719.1" cy="135.8" r="1.35" fill="#fff" opacity="0.85"/>
<circle cx="704.8" cy="144" r="4.7" fill="url(#sB)"/>
<circle cx="703.3" cy="142.4" r="1.35" fill="#fff" opacity="0.85"/>
<circle cx="689.1" cy="168.3" r="4.7" fill="url(#sB)"/>
<circle cx="687.6" cy="166.70000000000002" r="1.35" fill="#fff" opacity="0.85"/>
<circle cx="673.7" cy="189.1" r="4.7" fill="url(#sB)"/>
<circle cx="672.2" cy="187.5" r="1.35" fill="#fff" opacity="0.85"/>
<circle cx="642.2" cy="220.5" r="4.7" fill="url(#sB)"/>
<circle cx="640.7" cy="218.9" r="1.35" fill="#fff" opacity="0.85"/>
<circle cx="626.6" cy="237" r="4.7" fill="url(#sB)"/>
<circle cx="625.1" cy="235.4" r="1.35" fill="#fff" opacity="0.85"/>
<circle cx="611" cy="254.4" r="4.7" fill="url(#sB)"/>
<circle cx="609.5" cy="252.8" r="1.35" fill="#fff" opacity="0.85"/>
<circle cx="595.5" cy="280" r="4.7" fill="url(#sB)"/>
<circle cx="594.0" cy="278.4" r="1.35" fill="#fff" opacity="0.85"/>
<circle cx="580" cy="287.2" r="4.7" fill="url(#sB)"/>
<circle cx="578.5" cy="285.59999999999997" r="1.35" fill="#fff" opacity="0.85"/>
<circle cx="591.2" cy="135.9" r="4.7" fill="url(#sR)"/>
<circle cx="589.7" cy="134.3" r="1.35" fill="#fff" opacity="0.85"/>
<circle cx="604.4" cy="148.5" r="4.7" fill="url(#sR)"/>
<circle cx="602.9" cy="146.9" r="1.35" fill="#fff" opacity="0.85"/>
<circle cx="617.7" cy="160" r="4.7" fill="url(#sR)"/>
<circle cx="616.2" cy="158.4" r="1.35" fill="#fff" opacity="0.85"/>
<circle cx="631.1" cy="174.8" r="4.7" fill="url(#sR)"/>
<circle cx="629.6" cy="173.20000000000002" r="1.35" fill="#fff" opacity="0.85"/>
<circle cx="641.9" cy="187.6" r="4.7" fill="url(#sR)"/>
<circle cx="640.4" cy="186.0" r="1.35" fill="#fff" opacity="0.85"/>
<circle cx="671.2" cy="232.1" r="4.7" fill="url(#sR)"/>
<circle cx="669.7" cy="230.5" r="1.35" fill="#fff" opacity="0.85"/>
<circle cx="684.8" cy="260.1" r="4.7" fill="url(#sR)"/>
<circle cx="683.3" cy="258.5" r="1.35" fill="#fff" opacity="0.85"/>
<circle cx="580.2" cy="110.5" r="4.7" fill="url(#sO)"/>
<circle cx="578.7" cy="108.9" r="1.35" fill="#fff" opacity="0.85"/>
<circle cx="595.7" cy="121.8" r="4.7" fill="url(#sO)"/>
<circle cx="594.2" cy="120.2" r="1.35" fill="#fff" opacity="0.85"/>
<circle cx="611.3" cy="136.9" r="4.7" fill="url(#sO)"/>
<circle cx="609.8" cy="135.3" r="1.35" fill="#fff" opacity="0.85"/>
<circle cx="627.1" cy="156.9" r="4.7" fill="url(#sO)"/>
<circle cx="625.6" cy="155.3" r="1.35" fill="#fff" opacity="0.85"/>
<circle cx="644.4" cy="188.9" r="4.7" fill="url(#sO)"/>
<circle cx="642.9" cy="187.3" r="1.35" fill="#fff" opacity="0.85"/>
<circle cx="673.8" cy="237" r="4.7" fill="url(#sO)"/>
<circle cx="672.3" cy="235.4" r="1.35" fill="#fff" opacity="0.85"/>
<circle cx="689.2" cy="256.5" r="4.7" fill="url(#sO)"/>
<circle cx="687.7" cy="254.9" r="1.35" fill="#fff" opacity="0.85"/>
<circle cx="704.7" cy="278.5" r="4.7" fill="url(#sO)"/>
<circle cx="703.2" cy="276.9" r="1.35" fill="#fff" opacity="0.85"/>
<circle cx="720.6" cy="295.4" r="4.7" fill="url(#sO)"/>
<circle cx="719.1" cy="293.79999999999995" r="1.35" fill="#fff" opacity="0.85"/>
<circle cx="736.1" cy="309.1" r="4.7" fill="url(#sO)"/>
<circle cx="734.6" cy="307.5" r="1.35" fill="#fff" opacity="0.85"/>
<circle cx="658.0" cy="206.0" r="4.7" fill="url(#sR)"/>
<circle cx="656.5" cy="204.4" r="1.35" fill="#fff" opacity="0.85"/>
<rect x="537.5" y="43.6" width="260.9" height="437.59999999999997" fill="none" stroke="#1a1a1a" stroke-width="1.3"/>
<line x1="537.5" y1="59.4" x2="542.5" y2="59.4" stroke="#1a1a1a" stroke-width="1.2"/>
<text x="535.2" y="64.1" font-size="13.5" text-anchor="end" fill="#1c1a1b"  stroke="#1c1a1b">0.08</text>
<line x1="537.5" y1="132.7" x2="542.5" y2="132.7" stroke="#1a1a1a" stroke-width="1.2"/>
<text x="535.2" y="137.39999999999998" font-size="13.5" text-anchor="end" fill="#1c1a1b"  stroke="#1c1a1b">0.04</text>
<line x1="537.5" y1="206.0" x2="542.5" y2="206.0" stroke="#1a1a1a" stroke-width="1.2"/>
<text x="535.2" y="210.7" font-size="13.5" text-anchor="end" fill="#1c1a1b"  stroke="#1c1a1b">0.00</text>
<line x1="537.5" y1="279.3" x2="542.5" y2="279.3" stroke="#1a1a1a" stroke-width="1.2"/>
<text x="535.2" y="284.0" font-size="13.5" text-anchor="end" fill="#1c1a1b"  stroke="#1c1a1b">-0.04</text>
<line x1="537.5" y1="352.6" x2="542.5" y2="352.6" stroke="#1a1a1a" stroke-width="1.2"/>
<text x="535.2" y="357.3" font-size="13.5" text-anchor="end" fill="#1c1a1b"  stroke="#1c1a1b">-0.08</text>
<line x1="537.5" y1="425.9" x2="542.5" y2="425.9" stroke="#1a1a1a" stroke-width="1.2"/>
<text x="535.2" y="430.59999999999997" font-size="13.5" text-anchor="end" fill="#1c1a1b"  stroke="#1c1a1b">-0.12</text>
<line x1="553.1" y1="481.2" x2="553.1" y2="476.59999999999997" stroke="#1a1a1a" stroke-width="1.2"/>
<line x1="588.2" y1="481.2" x2="588.2" y2="473.2" stroke="#1a1a1a" stroke-width="1.2"/>
<line x1="622.9" y1="481.2" x2="622.9" y2="476.59999999999997" stroke="#1a1a1a" stroke-width="1.2"/>
<line x1="653.2" y1="481.2" x2="653.2" y2="473.2" stroke="#1a1a1a" stroke-width="1.2"/>
<line x1="693.2" y1="481.2" x2="693.2" y2="476.59999999999997" stroke="#1a1a1a" stroke-width="1.2"/>
<line x1="723" y1="481.2" x2="723" y2="473.2" stroke="#1a1a1a" stroke-width="1.2"/>
<text x="586.3" y="500.8" font-size="13.4" text-anchor="middle" fill="#1c1a1b"  stroke="#1c1a1b">-0.5</text>
<text x="653.0999999999999" y="500.8" font-size="13.4" text-anchor="middle" fill="#1c1a1b"  stroke="#1c1a1b">0.0</text>
<text x="722.8" y="500.8" font-size="13.4" text-anchor="middle" fill="#1c1a1b"  stroke="#1c1a1b">0.5</text>
<text transform="translate(499,252.3) rotate(-90)" font-size="16.3" text-anchor="middle" fill="#1c1a1b" xml:space="preserve" stroke="#1c1a1b">Peak position  shift (eV)</text>
<text x="632.2" y="525.3" font-size="16.4" fill="#1c1a1b" stroke="#1c1a1b"><tspan font-style="italic">F</tspan><tspan font-size="9.6" dy="5" dx="0.6" font-style="italic">z</tspan><tspan dy="-5"> (V/nm)</tspan></text>
<text x="766.5" y="70.8" font-size="12.3" fill="#1c1a1b" stroke="#1c1a1b"><tspan fill="#a02a32" stroke="#a02a32">5</tspan>+<tspan fill="#3a3a44" stroke="#3a3a44">4</tspan> L</text>
<text x="766.5" y="110.8" font-size="12.3" fill="#1c1a1b" stroke="#1c1a1b"><tspan fill="#d0281c" stroke="#d0281c">3</tspan>+<tspan fill="#3a6484" stroke="#3a6484">4</tspan> L</text>
<text x="766.5" y="135.8" font-size="12.3" fill="#1c1a1b" stroke="#1c1a1b"><tspan fill="#f0a68a" stroke="#f0a68a">2</tspan>+<tspan fill="#a3b2d8" stroke="#a3b2d8">3</tspan> L</text>
<text x="766.5" y="178.3" font-size="12.3" fill="#1c1a1b" stroke="#1c1a1b"><tspan fill="#f3cdb4" stroke="#f3cdb4">1</tspan>+<tspan fill="#c6ccdc" stroke="#c6ccdc">1</tspan> L</text>
<text x="766.5" y="246.1" font-size="12.3" fill="#1c1a1b" stroke="#1c1a1b"><tspan fill="#f3cdb4" stroke="#f3cdb4">1</tspan>+<tspan fill="#c6ccdc" stroke="#c6ccdc">1</tspan> L</text>
<text x="766.5" y="338.9" font-size="12.3" fill="#1c1a1b" stroke="#1c1a1b"><tspan fill="#f0a68a" stroke="#f0a68a">2</tspan>+<tspan fill="#a3b2d8" stroke="#a3b2d8">3</tspan> L</text>
<text x="766.5" y="384.2" font-size="12.3" fill="#1c1a1b" stroke="#1c1a1b"><tspan fill="#d0281c" stroke="#d0281c">3</tspan>+<tspan fill="#3a6484" stroke="#3a6484">4</tspan> L</text>
<text x="766.5" y="473.8" font-size="12.3" fill="#1c1a1b" stroke="#1c1a1b"><tspan fill="#a02a32" stroke="#a02a32">5</tspan>+<tspan fill="#3a3a44" stroke="#3a3a44">4</tspan> L</text>
<circle cx="621.5" cy="394.4" r="4.6" fill="url(#sD)"/>
<circle cx="620.0" cy="392.79999999999995" r="1.35" fill="#fff" opacity="0.85"/>
<text x="632.6" y="398.3" font-size="12.1" fill="#1c1a1b" stroke="#1c1a1b">peak I' in <tspan fill="#a02a32" stroke="#a02a32">5</tspan>+<tspan fill="#3a3a44" stroke="#3a3a44">4</tspan> L</text>
<circle cx="621.5" cy="412.4" r="4.6" fill="url(#sR)"/>
<circle cx="620.0" cy="410.79999999999995" r="1.35" fill="#fff" opacity="0.85"/>
<text x="632.6" y="416.3" font-size="12.1" fill="#1c1a1b" stroke="#1c1a1b">peak I in <tspan fill="#a02a32" stroke="#a02a32">5</tspan>+<tspan fill="#3a3a44" stroke="#3a3a44">4</tspan> L</text>
<circle cx="621.5" cy="431.9" r="4.6" fill="url(#sB)"/>
<circle cx="620.0" cy="430.29999999999995" r="1.35" fill="#fff" opacity="0.85"/>
<text x="632.6" y="435.8" font-size="12.1" fill="#1c1a1b" stroke="#1c1a1b">peak I in <tspan fill="#d0281c" stroke="#d0281c">3</tspan>+<tspan fill="#3a6484" stroke="#3a6484">4</tspan> L</text>
<circle cx="621.5" cy="451.4" r="4.6" fill="url(#sO)"/>
<circle cx="620.0" cy="449.79999999999995" r="1.35" fill="#fff" opacity="0.85"/>
<text x="632.6" y="455.3" font-size="12.1" fill="#1c1a1b" stroke="#1c1a1b">peak I' in <tspan fill="#d0281c" stroke="#d0281c">3</tspan>+<tspan fill="#3a6484" stroke="#3a6484">4</tspan> L</text>
</g>
<g id="panelC">
<text x="3.9" y="271.0" font-size="19.5" text-anchor="start" fill="#1c1a1b"  stroke="#1c1a1b">C</text>
<rect x="80.8" y="373.3" width="21.2" height="18.9" fill="#e17a9c" stroke="#0d0d12" stroke-width="1.1"/>
<rect x="102.0" y="392.2" width="20.6" height="19.4" fill="#5a689c" stroke="#0d0d12" stroke-width="1.1"/>
<rect x="157.2" y="335.0" width="20.4" height="57.2" fill="#e17a9c" stroke="#0d0d12" stroke-width="1.1"/>
<rect x="177.6" y="392.2" width="20.2" height="38.5" fill="#5a689c" stroke="#0d0d12" stroke-width="1.1"/>
<rect x="230.1" y="316.5" width="20.3" height="75.7" fill="#e17a9c" stroke="#0d0d12" stroke-width="1.1"/>
<rect x="250.4" y="328.6" width="20.6" height="63.6" fill="url(#hp)" stroke="#0d0d12" stroke-width="1.1"/>
<rect x="270.6" y="392.2" width="20.2" height="57.3" fill="#5a689c" stroke="#0d0d12" stroke-width="1.1"/>
<rect x="290.8" y="392.2" width="20.6" height="51.5" fill="url(#hb)" stroke="#0d0d12" stroke-width="1.1"/>
<rect x="345.7" y="290.3" width="20.1" height="101.9" fill="#e17a9c" stroke="#0d0d12" stroke-width="1.1"/>
<rect x="365.8" y="310.7" width="20.6" height="81.5" fill="url(#hp)" stroke="#0d0d12" stroke-width="1.1"/>
<rect x="386.2" y="392.2" width="20.2" height="76.6" fill="#5a689c" stroke="#0d0d12" stroke-width="1.1"/>
<rect x="406.4" y="392.2" width="21.6" height="60.6" fill="url(#hb)" stroke="#0d0d12" stroke-width="1.1"/>
<line x1="50.3" y1="265.5" x2="50.3" y2="511.8" stroke="#333" stroke-width="1.6"/>
<line x1="50.3" y1="392.2" x2="450.6" y2="392.2" stroke="#151515" stroke-width="1.4"/>
<line x1="50.3" y1="304.2" x2="56.8" y2="304.2" stroke="#2a2a2a" stroke-width="1.1"/>
<text x="45.6" y="308.8" font-size="13" text-anchor="end" fill="#1c1a1b"  stroke="#1c1a1b">1.2</text>
<line x1="50.3" y1="333.8" x2="56.8" y2="333.8" stroke="#2a2a2a" stroke-width="1.1"/>
<text x="45.6" y="338.40000000000003" font-size="13" text-anchor="end" fill="#1c1a1b"  stroke="#1c1a1b">0.8</text>
<line x1="50.3" y1="363.2" x2="56.8" y2="363.2" stroke="#2a2a2a" stroke-width="1.1"/>
<text x="45.6" y="367.8" font-size="13" text-anchor="end" fill="#1c1a1b"  stroke="#1c1a1b">0.4</text>
<text x="45.6" y="396.8" font-size="13" text-anchor="end" fill="#1c1a1b"  stroke="#1c1a1b">0</text>
<line x1="50.3" y1="421.7" x2="56.8" y2="421.7" stroke="#2a2a2a" stroke-width="1.1"/>
<text x="45.6" y="426.3" font-size="13" text-anchor="end" fill="#1c1a1b"  stroke="#1c1a1b">-0.4</text>
<line x1="50.3" y1="451.3" x2="56.8" y2="451.3" stroke="#2a2a2a" stroke-width="1.1"/>
<text x="45.6" y="455.90000000000003" font-size="13" text-anchor="end" fill="#1c1a1b"  stroke="#1c1a1b">-0.8</text>
<line x1="50.3" y1="480.6" x2="56.8" y2="480.6" stroke="#2a2a2a" stroke-width="1.1"/>
<text x="45.6" y="485.20000000000005" font-size="13" text-anchor="end" fill="#1c1a1b"  stroke="#1c1a1b">-1.2</text>
<text transform="translate(16.2,386.4) rotate(-90)" font-size="16.2" text-anchor="middle" fill="#1c1a1b" stroke="#1c1a1b">Dipole moment (<tspan font-style="italic">e</tspan> nm)</text>
<text x="91.0" y="277.6" font-size="13" fill="#1c1a1b" stroke="#1c1a1b"><tspan fill="#de88a2" stroke="#de88a2">1</tspan>+<tspan fill="#737ca6" stroke="#737ca6">1</tspan> L</text>
<text x="166.6" y="277.6" font-size="13" fill="#1c1a1b" stroke="#1c1a1b"><tspan fill="#de88a2" stroke="#de88a2">2</tspan>+<tspan fill="#737ca6" stroke="#737ca6">3</tspan> L</text>
<text x="258.0" y="277.6" font-size="13" fill="#1c1a1b" stroke="#1c1a1b"><tspan fill="#de88a2" stroke="#de88a2">3</tspan>+<tspan fill="#737ca6" stroke="#737ca6">4</tspan> L</text>
<text x="375.0" y="277.6" font-size="13" fill="#1c1a1b" stroke="#1c1a1b"><tspan fill="#de88a2" stroke="#de88a2">4</tspan>+<tspan fill="#737ca6" stroke="#737ca6">5</tspan> L</text>
<text x="92.3" y="368.5" font-size="12.4" text-anchor="middle" fill="#1c1a1b"  stroke="#1c1a1b">0.26</text>
<text x="110.8" y="425.0" font-size="12.4" text-anchor="middle" fill="#1c1a1b"  stroke="#1c1a1b">-0.26</text>
<text x="167.3" y="330.0" font-size="12.4" text-anchor="middle" fill="#1c1a1b"  stroke="#1c1a1b">0.78</text>
<text x="186.8" y="444.5" font-size="12.4" text-anchor="middle" fill="#1c1a1b"  stroke="#1c1a1b">-0.52</text>
<text x="240.60000000000002" y="311.5" font-size="12.4" text-anchor="middle" fill="#1c1a1b"  stroke="#1c1a1b">1.04</text>
<text x="263.8" y="324.0" font-size="12.4" text-anchor="middle" fill="#1c1a1b"  stroke="#1c1a1b">0.87</text>
<text x="276.8" y="464.0" font-size="12.4" text-anchor="middle" fill="#1c1a1b"  stroke="#1c1a1b">-0.78</text>
<text x="308.8" y="457.0" font-size="12.4" text-anchor="middle" fill="#1c1a1b"  stroke="#1c1a1b">-0.70</text>
<text x="355.8" y="285.5" font-size="12.4" text-anchor="middle" fill="#1c1a1b"  stroke="#1c1a1b">1.30</text>
<text x="378.3" y="306.0" font-size="12.4" text-anchor="middle" fill="#1c1a1b"  stroke="#1c1a1b">1.10</text>
<text x="393.8" y="482.5" font-size="12.4" text-anchor="middle" fill="#1c1a1b"  stroke="#1c1a1b">-1.04</text>
<text x="423.8" y="466.0" font-size="12.4" text-anchor="middle" fill="#1c1a1b"  stroke="#1c1a1b">-0.82</text>
<rect x="63.4" y="461.4" width="24.2" height="11.8" fill="#fff" stroke="#111" stroke-width="1.2"/>
<g clip-path="url(#clg)"><line x1="56.9" y1="492.8" x2="64.6" y2="480" stroke="#161616" stroke-width="1.7"/><line x1="62.2" y1="492.8" x2="69.9" y2="480" stroke="#161616" stroke-width="1.7"/><line x1="67.5" y1="492.8" x2="75.2" y2="480" stroke="#161616" stroke-width="1.7"/><line x1="72.8" y1="492.8" x2="80.5" y2="480" stroke="#161616" stroke-width="1.7"/><line x1="78.1" y1="492.8" x2="85.8" y2="480" stroke="#161616" stroke-width="1.7"/><line x1="83.4" y1="492.8" x2="91.1" y2="480" stroke="#161616" stroke-width="1.7"/><line x1="88.7" y1="492.8" x2="96.4" y2="480" stroke="#161616" stroke-width="1.7"/></g>
<rect x="63.4" y="480.5" width="24.2" height="11.8" fill="none" stroke="#111" stroke-width="1.2"/>
<text x="95.4" y="471.0" font-size="12.2" text-anchor="start" fill="#1c1a1b"  stroke="#1c1a1b">theoretical data</text>
<text x="95.4" y="489.6" font-size="12.2" text-anchor="start" fill="#1c1a1b"  stroke="#1c1a1b">experimental data</text>
</g>
</svg>
</body></html>
